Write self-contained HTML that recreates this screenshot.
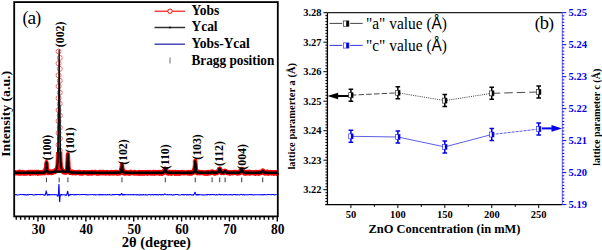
<!DOCTYPE html>
<html><head><meta charset="utf-8"><style>
html,body{margin:0;padding:0;background:#fff;}
body{width:602px;height:250px;overflow:hidden;}
svg{display:block;}
.serif{font-family:"Liberation Serif",serif;}
.sans{font-family:"Liberation Sans",sans-serif;}
</style></head><body>
<svg width="602" height="250" viewBox="0 0 602 250">
<defs>
<clipPath id="nopeak"><path d="M0,0H55.15V250H0Z M63.15,0H602V250H63.15Z M55.15,152H63.15V250H55.15Z"/></clipPath>
<clipPath id="midpk"><rect x="55.15" y="105" width="8" height="45"/></clipPath>
<clipPath id="lowonly"><path d="M0,0H55.15V250H0Z M63.15,0H602V250H63.15Z M55.15,148H63.15V250H55.15Z"/></clipPath>
</defs>
<rect width="602" height="250" fill="#fff"/>
<!-- Panel A -->
<g class="serif">
<text x="22.4" y="23.7" font-size="17.8" letter-spacing="-0.9">(<tspan font-size="19.5">a</tspan>)</text>
<text transform="translate(10.2,113.9) rotate(-90)" text-anchor="middle" font-size="13.5" font-weight="bold" textLength="85.9" lengthAdjust="spacingAndGlyphs">Intensity (a.u.)</text>
</g>
<path d="M14.50,172.53 L15.10,172.42 L15.70,173.03 L16.30,172.90 L16.90,173.01 L17.50,172.66 L18.10,172.77 L18.70,172.40 L19.30,173.01 L19.90,172.26 L20.50,172.74 L21.10,173.06 L21.70,172.97 L22.30,172.33 L22.90,172.49 L23.50,173.15 L24.10,172.93 L24.70,173.19 L25.30,173.18 L25.90,172.72 L26.50,173.21 L27.10,173.03 L27.70,172.59 L28.30,172.62 L28.90,172.30 L29.50,172.65 L30.10,173.26 L30.70,172.33 L31.30,172.84 L31.90,172.33 L32.50,172.29 L33.10,172.92 L33.70,172.47 L34.30,172.25 L34.90,172.36 L35.50,172.90 L36.10,172.83 L36.70,172.20 L37.30,172.43 L37.90,173.24 L38.50,172.41 L39.10,172.78 L39.70,172.62 L40.30,173.01 L40.90,172.80 L41.50,172.99 L42.10,172.69 L42.70,172.29 L43.30,172.24 L43.90,172.07 L44.50,172.79 L44.80,171.90 L45.10,171.54 L45.40,171.83 L45.70,169.47 L46.00,170.23 L46.30,169.34 L46.60,169.76 L46.90,169.50 L47.20,170.16 L47.50,171.21 L47.80,172.08 L48.10,172.50 L48.40,172.72 L48.70,172.19 L49.30,172.52 L49.90,172.34 L50.50,171.95 L51.10,172.71 L51.70,172.39 L52.30,172.55 L52.90,171.78 L53.50,172.00 L54.10,171.72 L54.70,171.72 L55.30,170.58 L55.90,170.21 L56.50,169.78 L57.10,169.33 L57.70,169.86 L58.00,170.06 L58.30,169.72 L58.60,169.96 L58.90,169.92 L59.20,169.49 L59.50,169.64 L59.80,170.35 L60.10,169.62 L60.40,169.72 L60.70,169.34 L61.00,169.49 L61.30,169.43 L61.90,170.27 L62.50,170.71 L63.10,171.48 L63.70,171.98 L64.30,171.80 L64.90,172.29 L65.50,171.89 L66.10,171.64 L66.40,171.98 L66.70,171.17 L67.00,170.29 L67.30,169.78 L67.60,170.10 L67.90,169.70 L68.20,170.35 L68.50,170.26 L68.80,169.57 L69.10,171.28 L69.40,171.35 L69.70,171.58 L70.00,172.43 L70.60,172.13 L71.20,172.47 L71.80,172.67 L72.40,172.05 L73.00,172.86 L73.60,172.37 L74.20,172.56 L74.80,172.48 L75.40,172.93 L76.00,172.95 L76.60,172.45 L77.20,172.26 L77.80,172.48 L78.40,172.61 L79.00,172.25 L79.60,172.34 L80.20,173.02 L80.80,172.95 L81.40,173.26 L82.00,173.27 L82.60,173.16 L83.20,172.60 L83.80,172.38 L84.40,172.54 L85.00,172.71 L85.60,172.78 L86.20,172.80 L86.80,172.60 L87.40,173.15 L88.00,172.53 L88.60,172.72 L89.20,173.19 L89.80,173.10 L90.40,172.54 L91.00,172.49 L91.60,173.11 L92.20,172.23 L92.80,172.37 L93.40,172.81 L94.00,172.81 L94.60,172.41 L95.20,172.28 L95.80,172.45 L96.40,173.07 L97.00,172.74 L97.60,173.30 L98.20,173.09 L98.80,173.31 L99.40,172.27 L100.00,172.43 L100.60,172.24 L101.20,172.71 L101.80,172.60 L102.40,172.29 L103.00,172.83 L103.60,172.33 L104.20,172.57 L104.80,172.50 L105.40,173.11 L106.00,172.69 L106.60,172.52 L107.20,172.28 L107.80,172.70 L108.40,172.92 L109.00,172.97 L109.60,173.24 L110.20,173.12 L110.80,172.50 L111.40,172.38 L112.00,173.06 L112.60,173.10 L113.20,172.79 L113.80,173.14 L114.40,172.83 L115.00,172.53 L115.60,172.40 L116.20,172.23 L116.80,172.91 L117.40,173.18 L118.00,173.18 L118.60,172.68 L119.20,172.86 L119.80,173.08 L120.40,172.75 L120.70,172.13 L121.00,170.92 L121.30,169.82 L121.60,169.44 L121.90,169.45 L122.20,170.00 L122.50,170.34 L122.80,170.55 L123.10,171.70 L123.40,172.16 L123.70,172.46 L124.00,172.92 L124.60,172.62 L125.20,173.21 L125.80,172.35 L126.40,172.54 L127.00,172.78 L127.60,172.67 L128.20,173.16 L128.80,173.13 L129.40,173.25 L130.00,172.90 L130.60,172.26 L131.20,172.86 L131.80,172.84 L132.40,172.77 L133.00,172.54 L133.60,173.02 L134.20,173.24 L134.80,172.35 L135.40,172.97 L136.00,172.65 L136.60,172.81 L137.20,173.22 L137.80,173.30 L138.40,172.95 L139.00,172.45 L139.60,173.25 L140.20,172.44 L140.80,172.66 L141.40,173.15 L142.00,172.59 L142.60,172.54 L143.20,173.29 L143.80,173.28 L144.40,172.59 L145.00,172.67 L145.60,172.55 L146.20,172.39 L146.80,172.52 L147.40,173.32 L148.00,172.33 L148.60,172.49 L149.20,172.46 L149.80,172.33 L150.40,172.82 L151.00,173.06 L151.60,173.16 L152.20,172.93 L152.80,173.14 L153.40,172.24 L154.00,172.55 L154.60,173.29 L155.20,172.31 L155.80,172.53 L156.40,172.77 L157.00,172.53 L157.60,172.83 L158.20,172.28 L158.80,172.48 L159.40,173.27 L160.00,172.37 L160.60,173.20 L161.20,172.39 L161.80,173.27 L162.40,172.89 L163.00,172.80 L163.60,172.01 L164.20,171.04 L164.80,170.09 L165.40,169.44 L166.00,170.00 L166.60,172.26 L167.20,172.93 L167.80,172.17 L168.40,173.22 L169.00,172.77 L169.60,172.62 L170.20,172.33 L170.80,172.65 L171.40,173.31 L172.00,172.53 L172.60,172.37 L173.20,172.39 L173.80,172.37 L174.40,172.62 L175.00,173.24 L175.60,172.32 L176.20,172.45 L176.80,173.27 L177.40,173.33 L178.00,173.31 L178.60,172.51 L179.20,172.63 L179.80,173.28 L180.40,172.77 L181.00,173.01 L181.60,172.58 L182.20,172.26 L182.80,172.61 L183.40,173.06 L184.00,173.09 L184.60,172.86 L185.20,172.74 L185.80,172.82 L186.40,172.71 L187.00,172.81 L187.60,173.14 L188.20,172.44 L188.80,172.87 L189.40,173.23 L190.00,173.13 L190.60,172.38 L191.20,173.23 L191.80,173.06 L192.40,172.28 L193.00,172.30 L193.60,172.02 L193.90,171.50 L194.20,171.54 L194.50,169.70 L194.80,170.21 L195.10,169.38 L195.40,169.27 L195.70,170.21 L196.00,170.12 L196.30,171.36 L196.60,172.12 L196.90,172.35 L197.20,172.76 L197.50,172.10 L198.10,172.68 L198.70,172.62 L199.30,172.33 L199.90,172.84 L200.50,172.55 L201.10,172.76 L201.70,172.62 L202.30,172.56 L202.90,172.61 L203.50,172.88 L204.10,173.30 L204.70,173.25 L205.30,173.17 L205.90,173.14 L206.50,172.54 L207.10,173.30 L207.70,172.52 L208.30,172.35 L208.90,172.76 L209.50,173.01 L210.10,172.56 L210.70,172.82 L211.30,172.11 L211.90,172.35 L212.50,171.91 L213.10,172.44 L213.70,172.71 L214.30,173.13 L214.90,173.25 L215.50,172.74 L216.10,172.62 L216.70,172.78 L217.30,172.07 L217.90,172.09 L218.50,171.48 L219.10,170.11 L219.70,169.32 L220.30,170.19 L220.90,171.08 L221.50,172.73 L222.10,172.38 L222.70,172.28 L223.30,172.60 L223.90,172.65 L224.50,171.34 L225.10,171.16 L225.70,171.56 L226.30,172.04 L226.90,172.37 L227.50,172.70 L228.10,172.62 L228.70,172.60 L229.30,172.92 L229.90,173.17 L230.50,172.86 L231.10,172.38 L231.70,172.46 L232.30,172.63 L232.90,172.89 L233.50,172.37 L234.10,172.31 L234.70,172.57 L235.30,172.52 L235.90,172.24 L236.50,172.79 L237.10,173.20 L237.70,172.76 L238.30,172.96 L238.90,173.02 L239.50,172.90 L240.10,172.52 L240.70,170.82 L241.30,170.00 L241.90,169.38 L242.50,170.80 L243.10,171.65 L243.70,172.41 L244.30,173.06 L244.90,172.46 L245.50,172.38 L246.10,173.10 L246.70,172.86 L247.30,172.30 L247.90,172.25 L248.50,172.61 L249.10,172.23 L249.70,173.14 L250.30,172.43 L250.90,172.53 L251.50,172.66 L252.10,172.80 L252.70,172.71 L253.30,172.92 L253.90,172.96 L254.50,172.71 L255.10,172.34 L255.70,173.31 L256.30,172.99 L256.90,172.32 L257.50,172.71 L258.10,173.05 L258.70,173.31 L259.30,172.28 L259.90,172.20 L260.50,172.65 L261.10,172.39 L261.70,172.38 L262.30,171.58 L262.90,170.87 L263.50,171.61 L264.10,172.43 L264.70,173.06 L265.30,172.40 L265.90,172.63 L266.50,172.31 L267.10,172.93 L267.70,172.26 L268.30,173.26 L268.90,172.81 L269.50,172.87 L270.10,172.33 L270.70,172.49 L271.30,172.76 L271.90,173.18 L272.50,172.84 L273.10,172.56 L273.70,173.32 L274.30,172.97 L274.90,172.83 L275.50,172.47 L276.10,172.57 L276.70,173.23 L277.30,172.39" fill="none" stroke="#ff0000" stroke-width="5.0" stroke-linejoin="round" stroke-linecap="butt"/>
<path d="M14.50,172.52 L15.10,172.83 L15.70,172.65 L16.30,172.89 L16.90,172.91 L17.50,172.35 L18.10,172.30 L18.70,173.12 L19.30,172.54 L19.90,172.51 L20.50,173.28 L21.10,172.75 L21.70,173.11 L22.30,172.75 L22.90,172.92 L23.50,172.43 L24.10,172.91 L24.70,173.14 L25.30,172.80 L25.90,173.01 L26.50,172.94 L27.10,172.33 L27.70,173.03 L28.30,172.86 L28.90,172.57 L29.50,172.30 L30.10,173.13 L30.70,172.73 L31.30,172.98 L31.90,173.14 L32.50,172.97 L33.10,173.17 L33.70,172.65 L34.30,173.05 L34.90,172.69 L35.50,173.18 L36.10,173.12 L36.70,172.33 L37.30,172.37 L37.90,172.44 L38.50,173.19 L39.10,172.65 L39.70,172.83 L40.30,172.50 L40.90,172.69 L41.50,172.56 L42.10,172.51 L42.70,172.71 L43.30,172.68 L43.90,172.94 L44.00,172.71 L44.10,172.94 L44.20,172.85 L44.30,172.97 L44.40,172.63 L44.50,172.09 L44.60,172.76 L44.70,172.83 L44.80,172.73 L44.90,172.33 L45.00,172.39 L45.10,171.77 L45.20,172.23 L45.30,171.73 L45.40,171.11 L45.50,170.42 L45.60,170.61 L45.70,169.97 L45.80,168.13 L45.90,167.76 L46.00,166.19 L46.10,164.72 L46.20,163.73 L46.30,163.29 L46.40,162.83 L46.50,161.90 L46.60,162.84 L46.70,163.05 L46.80,164.77 L46.90,165.57 L47.00,167.32 L47.10,168.55 L47.20,169.07 L47.30,170.40 L47.40,170.38 L47.50,170.66 L47.60,171.57 L47.70,171.27 L47.80,171.63 L47.90,171.97 L48.00,172.26 L48.10,171.87 L48.20,171.80 L48.30,172.66 L48.40,172.13 L48.50,172.79 L48.60,172.75 L48.70,172.24 L48.80,172.33 L48.90,172.40 L49.00,172.53 L49.10,172.49 L49.20,172.46 L49.30,172.52 L49.40,172.84 L49.50,172.41 L50.10,172.33 L50.70,172.59 L51.30,172.06 L51.90,172.06 L52.50,172.65 L53.10,172.08 L53.70,171.95 L54.30,171.19 L54.90,171.27 L55.50,170.94 L56.10,169.59 L56.70,168.78 L56.80,168.47 L56.90,167.52 L57.00,167.65 L57.10,167.00 L57.20,166.64 L57.30,165.63 L57.40,165.16 L57.50,164.17 L57.60,162.17 L57.70,160.55 L57.80,159.01 L57.90,156.48 L58.00,152.09 L58.10,147.56 L58.20,141.69 L58.30,133.96 L58.40,125.01 L58.50,114.44 L58.60,102.63 L58.70,90.07 L58.80,76.79 L58.90,64.84 L59.00,55.69 L59.10,49.50 L59.20,49.82 L59.30,55.03 L59.40,63.87 L59.50,75.66 L59.60,89.20 L59.70,101.47 L59.80,113.38 L59.90,124.27 L60.00,133.65 L60.10,140.63 L60.20,146.97 L60.30,151.82 L60.40,156.07 L60.50,158.56 L60.60,161.18 L60.70,162.18 L60.80,163.66 L60.90,165.01 L61.00,166.08 L61.10,166.34 L61.20,166.69 L61.30,167.09 L61.40,167.93 L61.50,167.97 L61.60,168.92 L61.70,169.25 L61.80,168.87 L61.90,169.20 L62.00,169.95 L62.10,169.98 L62.20,170.32 L62.80,170.65 L63.40,170.91 L64.00,171.37 L64.60,172.05 L65.20,171.62 L65.30,171.70 L65.40,171.77 L65.50,171.77 L65.60,171.75 L65.70,172.26 L65.80,171.48 L65.90,171.31 L66.00,172.22 L66.10,172.11 L66.20,172.17 L66.30,171.54 L66.40,171.94 L66.50,171.75 L66.60,170.80 L66.70,170.97 L66.80,170.55 L66.90,169.66 L67.00,168.54 L67.10,167.06 L67.20,165.56 L67.30,163.60 L67.40,161.38 L67.50,159.72 L67.60,157.31 L67.70,156.00 L67.80,153.94 L67.90,154.27 L68.00,154.39 L68.10,155.76 L68.20,157.47 L68.30,159.55 L68.40,161.42 L68.50,162.98 L68.60,165.63 L68.70,166.71 L68.80,168.18 L68.90,169.60 L69.00,170.25 L69.10,170.72 L69.20,171.65 L69.30,171.61 L69.40,171.54 L69.50,171.59 L69.60,172.31 L69.70,172.00 L69.80,172.37 L69.90,171.99 L70.00,171.88 L70.10,172.25 L70.20,172.57 L70.30,171.95 L70.40,172.60 L70.50,172.75 L70.60,172.66 L70.70,172.70 L70.80,171.90 L70.90,172.54 L71.00,172.79 L71.60,172.05 L72.20,172.32 L72.80,172.35 L73.40,172.64 L74.00,172.55 L74.60,172.62 L75.20,172.94 L75.80,172.18 L76.40,172.24 L77.00,172.32 L77.60,172.33 L78.20,172.28 L78.80,173.19 L79.40,173.07 L80.00,172.31 L80.60,172.73 L81.20,172.55 L81.80,172.55 L82.40,172.59 L83.00,172.89 L83.60,172.83 L84.20,172.61 L84.80,172.44 L85.40,172.58 L86.00,172.38 L86.60,172.81 L87.20,172.98 L87.80,172.64 L88.40,172.34 L89.00,172.44 L89.60,172.64 L90.20,172.87 L90.80,173.05 L91.40,172.65 L92.00,173.07 L92.60,172.89 L93.20,172.70 L93.80,172.65 L94.40,172.77 L95.00,172.98 L95.60,172.70 L96.20,172.97 L96.80,172.74 L97.40,172.52 L98.00,172.81 L98.60,172.97 L99.20,172.35 L99.80,172.70 L100.40,172.71 L101.00,173.16 L101.60,173.22 L102.20,172.66 L102.80,173.18 L103.40,173.07 L104.00,172.54 L104.60,172.75 L105.20,172.41 L105.80,173.10 L106.40,172.94 L107.00,173.17 L107.60,173.07 L108.20,172.95 L108.80,173.02 L109.40,172.85 L110.00,172.38 L110.60,172.87 L111.20,172.29 L111.80,172.42 L112.40,173.05 L113.00,172.32 L113.60,172.37 L114.20,172.37 L114.80,173.15 L115.40,172.45 L116.00,172.29 L116.60,173.10 L117.20,172.37 L117.80,173.08 L118.40,172.89 L119.00,173.03 L119.10,173.14 L119.20,172.75 L119.30,172.97 L119.40,172.19 L119.50,172.91 L119.60,172.65 L119.70,172.84 L119.80,172.21 L119.90,172.84 L120.00,173.00 L120.10,172.10 L120.20,172.33 L120.30,172.53 L120.40,172.73 L120.50,172.06 L120.60,171.87 L120.70,171.77 L120.80,171.89 L120.90,171.70 L121.00,170.91 L121.10,170.32 L121.20,169.67 L121.30,168.82 L121.40,167.98 L121.50,166.69 L121.60,166.17 L121.70,165.79 L121.80,164.59 L121.90,164.58 L122.00,164.01 L122.10,164.91 L122.20,165.63 L122.30,166.40 L122.40,167.19 L122.50,168.11 L122.60,169.17 L122.70,170.22 L122.80,170.15 L122.90,170.64 L123.00,171.72 L123.10,172.22 L123.20,172.05 L123.30,172.15 L123.40,172.54 L123.50,172.09 L123.60,172.23 L123.70,172.21 L123.80,172.63 L123.90,172.38 L124.00,172.32 L124.10,172.80 L124.20,173.08 L124.30,172.43 L124.40,172.85 L124.50,172.57 L124.60,173.02 L124.70,172.76 L124.80,172.45 L124.90,172.41 L125.00,172.22 L125.60,172.71 L126.20,172.63 L126.80,172.43 L127.40,172.62 L128.00,172.59 L128.60,173.05 L129.20,172.42 L129.80,173.27 L130.40,172.76 L131.00,172.88 L131.60,172.75 L132.20,173.12 L132.80,173.11 L133.40,172.84 L134.00,172.77 L134.60,173.01 L135.20,173.14 L135.80,172.69 L136.40,173.02 L137.00,173.25 L137.60,172.76 L138.20,172.52 L138.80,172.52 L139.40,173.01 L140.00,172.97 L140.60,173.25 L141.20,173.14 L141.80,172.53 L142.40,172.48 L143.00,172.55 L143.60,172.48 L144.20,173.00 L144.80,173.15 L145.40,173.19 L146.00,172.55 L146.60,173.16 L147.20,172.60 L147.80,172.71 L148.40,173.02 L149.00,172.38 L149.60,172.38 L150.20,173.12 L150.80,172.58 L151.40,172.65 L152.00,172.87 L152.60,172.96 L153.20,172.30 L153.80,172.62 L154.40,172.72 L155.00,172.77 L155.60,172.50 L156.20,172.87 L156.80,173.24 L157.40,172.67 L158.00,172.82 L158.60,172.40 L159.20,172.55 L159.80,172.93 L160.40,172.37 L161.00,173.14 L161.60,173.15 L162.20,172.31 L162.80,173.11 L163.40,172.40 L164.00,172.20 L164.60,170.64 L165.20,168.64 L165.80,169.88 L166.40,171.64 L167.00,172.70 L167.60,172.40 L168.20,172.96 L168.80,173.19 L169.40,172.92 L170.00,172.79 L170.60,172.38 L171.20,172.76 L171.80,172.63 L172.40,173.00 L173.00,172.96 L173.60,172.85 L174.20,172.46 L174.80,172.93 L175.40,172.92 L176.00,172.46 L176.60,173.18 L177.20,172.94 L177.80,172.41 L178.40,173.22 L179.00,172.43 L179.60,172.62 L180.20,173.01 L180.80,172.88 L181.40,172.84 L182.00,172.93 L182.60,172.74 L183.20,172.60 L183.80,172.46 L184.40,172.35 L185.00,173.00 L185.60,173.03 L186.20,172.82 L186.80,173.02 L187.40,172.63 L188.00,172.54 L188.60,172.65 L189.20,173.13 L189.80,172.29 L190.40,172.75 L191.00,172.47 L191.60,172.97 L192.20,172.52 L192.80,172.43 L192.90,172.48 L193.00,172.60 L193.10,172.81 L193.20,172.37 L193.30,172.83 L193.40,172.06 L193.50,172.17 L193.60,171.94 L193.70,171.88 L193.80,172.43 L193.90,172.22 L194.00,171.45 L194.10,171.14 L194.20,170.93 L194.30,170.67 L194.40,170.00 L194.50,169.00 L194.60,167.74 L194.70,166.05 L194.80,164.96 L194.90,163.41 L195.00,162.51 L195.10,161.57 L195.20,160.62 L195.30,160.57 L195.40,161.52 L195.50,161.63 L195.60,163.56 L195.70,164.97 L195.80,166.38 L195.90,167.10 L196.00,168.43 L196.10,169.45 L196.20,170.31 L196.30,171.30 L196.40,171.49 L196.50,171.46 L196.60,172.28 L196.70,172.08 L196.80,172.33 L196.90,172.55 L197.00,171.89 L197.10,172.70 L197.20,172.63 L197.30,172.49 L197.40,172.55 L197.50,172.51 L197.60,172.26 L197.70,172.62 L197.80,172.14 L197.90,172.62 L198.00,172.77 L198.10,172.58 L198.20,172.71 L198.30,173.12 L198.90,173.09 L199.50,172.36 L200.10,173.03 L200.70,172.87 L201.30,172.31 L201.90,172.62 L202.50,172.50 L203.10,172.35 L203.70,172.81 L204.30,173.20 L204.90,172.60 L205.50,173.14 L206.10,172.97 L206.70,172.41 L207.30,173.13 L207.90,172.87 L208.50,173.19 L209.10,172.98 L209.70,172.99 L210.30,172.57 L210.90,172.91 L211.50,172.61 L212.10,172.13 L212.70,172.08 L213.30,172.83 L213.90,172.69 L214.50,172.33 L215.10,172.26 L215.70,172.28 L216.30,172.38 L216.90,172.29 L217.50,172.47 L218.10,172.12 L218.70,170.58 L219.30,168.61 L219.90,168.52 L220.50,169.86 L221.10,171.61 L221.70,172.62 L222.30,172.47 L222.90,172.28 L223.50,172.88 L224.10,172.22 L224.70,170.97 L225.30,170.69 L225.90,171.68 L226.50,172.48 L227.10,172.37 L227.70,172.21 L228.30,172.44 L228.90,173.03 L229.50,172.40 L230.10,172.72 L230.70,172.46 L231.30,172.48 L231.90,172.44 L232.50,172.67 L233.10,172.44 L233.70,172.30 L234.30,172.38 L234.90,172.43 L235.50,172.75 L236.10,172.31 L236.70,172.27 L237.30,172.68 L237.90,172.63 L238.50,172.89 L239.10,172.18 L239.70,172.33 L240.30,171.66 L240.90,169.87 L241.50,169.38 L242.10,169.03 L242.70,170.52 L243.30,172.06 L243.90,172.20 L244.50,172.78 L245.10,172.55 L245.70,172.35 L246.30,172.30 L246.90,172.98 L247.50,172.54 L248.10,173.06 L248.70,172.74 L249.30,173.21 L249.90,172.58 L250.50,172.53 L251.10,172.55 L251.70,173.10 L252.30,172.91 L252.90,172.63 L253.50,172.38 L254.10,172.97 L254.70,173.25 L255.30,172.87 L255.90,172.29 L256.50,172.31 L257.10,172.37 L257.70,172.44 L258.30,172.31 L258.90,172.32 L259.50,172.90 L260.10,173.12 L260.70,172.33 L261.30,172.81 L261.90,171.68 L262.50,171.36 L263.10,171.63 L263.70,172.38 L264.30,172.00 L264.90,172.48 L265.50,172.84 L266.10,173.20 L266.70,172.35 L267.30,172.57 L267.90,173.13 L268.50,172.40 L269.10,172.67 L269.70,172.62 L270.30,172.97 L270.90,173.22 L271.50,172.47 L272.10,173.03 L272.70,173.03 L273.30,173.13 L273.90,172.85 L274.50,173.22 L275.10,172.66 L275.70,172.71 L276.30,172.52 L276.90,173.07 L277.50,172.78" fill="none" stroke="#ff0000" stroke-width="4.0" stroke-linejoin="round" stroke-linecap="butt" clip-path="url(#nopeak)"/>
<g fill="none" stroke="#f03c3c" stroke-width="1" opacity="0.75"><circle cx="58.55" cy="51.50" r="2.5"/><circle cx="59.75" cy="57.90" r="2.5"/><circle cx="58.55" cy="63.40" r="2.5"/><circle cx="59.75" cy="68.90" r="2.5"/><circle cx="58.55" cy="75.30" r="2.5"/><circle cx="59.75" cy="80.80" r="2.5"/><circle cx="58.55" cy="86.30" r="2.5"/><circle cx="59.75" cy="92.70" r="2.5"/><circle cx="58.55" cy="98.20" r="2.5"/><circle cx="59.75" cy="103.70" r="2.5"/><circle cx="58.55" cy="110.10" r="2.5"/><circle cx="59.75" cy="115.60" r="2.5"/><circle cx="58.55" cy="121.10" r="2.5"/><circle cx="59.75" cy="127.50" r="2.5"/><circle cx="58.55" cy="133.00" r="2.5"/><circle cx="59.75" cy="138.50" r="2.5"/><circle cx="58.55" cy="144.90" r="2.5"/><circle cx="59.75" cy="150.40" r="2.5"/><circle cx="58.55" cy="155.90" r="2.5"/><circle cx="59.75" cy="162.30" r="2.5"/></g>
<g fill="none" stroke="#f03c3c" stroke-width="0.9" opacity="0.8"><circle cx="194.87" cy="161.6" r="1.9"/><circle cx="195.67" cy="164.6" r="1.9"/></g>
<path d="M14.50,172.78 L15.00,172.78 L15.50,172.78 L16.00,172.78 L16.50,172.78 L17.00,172.78 L17.50,172.78 L18.00,172.78 L18.50,172.78 L19.00,172.78 L19.50,172.78 L20.00,172.78 L20.50,172.78 L21.00,172.78 L21.50,172.78 L22.00,172.78 L22.50,172.78 L23.00,172.78 L23.50,172.78 L24.00,172.78 L24.50,172.77 L25.00,172.77 L25.50,172.77 L26.00,172.77 L26.50,172.77 L27.00,172.77 L27.50,172.77 L28.00,172.77 L28.50,172.77 L29.00,172.77 L29.50,172.77 L30.00,172.76 L30.50,172.76 L31.00,172.76 L31.50,172.76 L32.00,172.76 L32.50,172.76 L33.00,172.75 L33.50,172.75 L34.00,172.75 L34.50,172.75 L35.00,172.75 L35.50,172.74 L36.00,172.74 L36.50,172.74 L37.00,172.73 L37.50,172.73 L38.00,172.72 L38.50,172.72 L39.00,172.71 L39.50,172.71 L40.00,172.70 L40.50,172.69 L41.00,172.68 L41.50,172.67 L42.00,172.66 L42.50,172.64 L43.00,172.61 L43.50,172.58 L43.60,172.57 L43.70,172.56 L43.80,172.55 L43.90,172.54 L44.00,172.52 L44.10,172.51 L44.20,172.49 L44.30,172.47 L44.40,172.45 L44.50,172.43 L44.60,172.40 L44.70,172.37 L44.80,172.32 L44.90,172.26 L45.00,172.18 L45.10,172.06 L45.20,171.90 L45.30,171.66 L45.40,171.32 L45.50,170.86 L45.60,170.25 L45.70,169.48 L45.80,168.55 L45.90,167.46 L46.00,166.28 L46.10,165.07 L46.20,163.94 L46.30,163.02 L46.40,162.46 L46.50,162.35 L46.60,162.72 L46.70,163.50 L46.80,164.55 L46.90,165.74 L47.00,166.94 L47.10,168.07 L47.20,169.07 L47.30,169.90 L47.40,170.57 L47.50,171.09 L47.60,171.47 L47.70,171.74 L47.80,171.93 L47.90,172.06 L48.00,172.15 L48.10,172.21 L48.20,172.26 L48.30,172.29 L48.40,172.31 L48.50,172.33 L48.60,172.35 L48.70,172.36 L48.80,172.37 L48.90,172.38 L49.00,172.39 L49.10,172.39 L49.20,172.40 L49.30,172.40 L49.40,172.40 L49.50,172.41 L50.00,172.40 L50.50,172.38 L51.00,172.35 L51.50,172.31 L52.00,172.25 L52.50,172.17 L53.00,172.08 L53.50,171.96 L54.00,171.80 L54.50,171.58 L55.00,171.28 L55.50,170.86 L56.00,170.23 L56.50,169.23 L56.60,168.97 L56.70,168.67 L56.80,168.33 L56.90,167.96 L57.00,167.53 L57.10,167.03 L57.20,166.46 L57.30,165.78 L57.40,164.95 L57.50,163.93 L57.60,162.65 L57.70,160.99 L57.80,158.84 L57.90,156.02 L58.00,152.34 L58.10,147.60 L58.20,141.59 L58.30,134.14 L58.40,125.15 L58.50,114.63 L58.60,102.76 L58.70,89.97 L58.80,76.99 L58.90,64.96 L59.00,55.42 L59.10,49.97 L59.20,49.75 L59.30,54.79 L59.40,64.06 L59.50,75.94 L59.60,88.89 L59.70,101.73 L59.80,113.69 L59.90,124.33 L60.00,133.45 L60.10,141.03 L60.20,147.15 L60.30,151.99 L60.40,155.74 L60.50,158.62 L60.60,160.82 L60.70,162.51 L60.80,163.82 L60.90,164.86 L61.00,165.70 L61.10,166.39 L61.20,166.97 L61.30,167.47 L61.40,167.90 L61.50,168.28 L61.60,168.62 L61.70,168.92 L61.80,169.18 L61.90,169.42 L62.00,169.64 L62.10,169.84 L62.20,170.02 L62.70,170.70 L63.20,171.14 L63.70,171.44 L64.20,171.65 L64.70,171.78 L65.20,171.84 L65.30,171.85 L65.40,171.85 L65.50,171.85 L65.60,171.84 L65.70,171.84 L65.80,171.82 L65.90,171.80 L66.00,171.77 L66.10,171.73 L66.20,171.68 L66.30,171.60 L66.40,171.49 L66.50,171.32 L66.60,171.08 L66.70,170.72 L66.80,170.21 L66.90,169.49 L67.00,168.53 L67.10,167.27 L67.20,165.72 L67.30,163.87 L67.40,161.81 L67.50,159.63 L67.60,157.52 L67.70,155.69 L67.80,154.39 L67.90,153.86 L68.00,154.20 L68.10,155.33 L68.20,157.07 L68.30,159.15 L68.40,161.35 L68.50,163.47 L68.60,165.39 L68.70,167.04 L68.80,168.38 L68.90,169.43 L69.00,170.23 L69.10,170.80 L69.20,171.21 L69.30,171.50 L69.40,171.70 L69.50,171.84 L69.60,171.95 L69.70,172.02 L69.80,172.09 L69.90,172.14 L70.00,172.18 L70.10,172.22 L70.20,172.25 L70.30,172.28 L70.40,172.31 L70.50,172.33 L70.60,172.35 L70.70,172.37 L70.80,172.39 L70.90,172.41 L71.00,172.42 L71.50,172.49 L72.00,172.53 L72.50,172.56 L73.00,172.59 L73.50,172.61 L74.00,172.63 L74.50,172.64 L75.00,172.66 L75.50,172.67 L76.00,172.68 L76.50,172.69 L77.00,172.69 L77.50,172.70 L78.00,172.71 L78.50,172.71 L79.00,172.72 L79.50,172.72 L80.00,172.73 L80.50,172.73 L81.00,172.73 L81.50,172.74 L82.00,172.74 L82.50,172.74 L83.00,172.74 L83.50,172.75 L84.00,172.75 L84.50,172.75 L85.00,172.75 L85.50,172.75 L86.00,172.76 L86.50,172.76 L87.00,172.76 L87.50,172.76 L88.00,172.76 L88.50,172.76 L89.00,172.76 L89.50,172.77 L90.00,172.77 L90.50,172.77 L91.00,172.77 L91.50,172.77 L92.00,172.77 L92.50,172.77 L93.00,172.77 L93.50,172.77 L94.00,172.77 L94.50,172.77 L95.00,172.77 L95.50,172.78 L96.00,172.78 L96.50,172.78 L97.00,172.78 L97.50,172.78 L98.00,172.78 L98.50,172.78 L99.00,172.78 L99.50,172.78 L100.00,172.78 L100.50,172.78 L101.00,172.78 L101.50,172.78 L102.00,172.78 L102.50,172.78 L103.00,172.78 L103.50,172.78 L104.00,172.78 L104.50,172.78 L105.00,172.78 L105.50,172.78 L106.00,172.78 L106.50,172.78 L107.00,172.78 L107.50,172.78 L108.00,172.78 L108.50,172.78 L109.00,172.78 L109.50,172.78 L110.00,172.78 L110.50,172.78 L111.00,172.78 L111.50,172.78 L112.00,172.78 L112.50,172.78 L113.00,172.78 L113.50,172.78 L114.00,172.78 L114.50,172.77 L115.00,172.77 L115.50,172.77 L116.00,172.76 L116.50,172.76 L117.00,172.75 L117.50,172.75 L118.00,172.73 L118.50,172.72 L119.00,172.69 L119.10,172.68 L119.20,172.68 L119.30,172.67 L119.40,172.66 L119.50,172.65 L119.60,172.64 L119.70,172.62 L119.80,172.61 L119.90,172.59 L120.00,172.57 L120.10,172.54 L120.20,172.51 L120.30,172.46 L120.40,172.40 L120.50,172.32 L120.60,172.19 L120.70,172.02 L120.80,171.78 L120.90,171.45 L121.00,171.01 L121.10,170.46 L121.20,169.77 L121.30,168.97 L121.40,168.06 L121.50,167.11 L121.60,166.17 L121.70,165.32 L121.80,164.68 L121.90,164.33 L122.00,164.34 L122.10,164.71 L122.20,165.38 L122.30,166.23 L122.40,167.18 L122.50,168.13 L122.60,169.03 L122.70,169.82 L122.80,170.50 L122.90,171.05 L123.00,171.48 L123.10,171.80 L123.20,172.04 L123.30,172.20 L123.40,172.32 L123.50,172.41 L123.60,172.47 L123.70,172.51 L123.80,172.54 L123.90,172.57 L124.00,172.59 L124.10,172.61 L124.20,172.62 L124.30,172.64 L124.40,172.65 L124.50,172.66 L124.60,172.67 L124.70,172.68 L124.80,172.68 L124.90,172.69 L125.00,172.70 L125.50,172.72 L126.00,172.74 L126.50,172.75 L127.00,172.76 L127.50,172.76 L128.00,172.77 L128.50,172.77 L129.00,172.77 L129.50,172.78 L130.00,172.78 L130.50,172.78 L131.00,172.78 L131.50,172.78 L132.00,172.78 L132.50,172.78 L133.00,172.79 L133.50,172.79 L134.00,172.79 L134.50,172.79 L135.00,172.79 L135.50,172.79 L136.00,172.79 L136.50,172.79 L137.00,172.79 L137.50,172.79 L138.00,172.79 L138.50,172.79 L139.00,172.79 L139.50,172.79 L140.00,172.79 L140.50,172.79 L141.00,172.79 L141.50,172.79 L142.00,172.79 L142.50,172.79 L143.00,172.79 L143.50,172.79 L144.00,172.79 L144.50,172.79 L145.00,172.79 L145.50,172.79 L146.00,172.79 L146.50,172.79 L147.00,172.79 L147.50,172.79 L148.00,172.79 L148.50,172.79 L149.00,172.79 L149.50,172.79 L150.00,172.79 L150.50,172.79 L151.00,172.79 L151.50,172.79 L152.00,172.79 L152.50,172.79 L153.00,172.79 L153.50,172.79 L154.00,172.79 L154.50,172.79 L155.00,172.79 L155.50,172.79 L156.00,172.78 L156.50,172.78 L157.00,172.78 L157.50,172.78 L158.00,172.78 L158.50,172.78 L159.00,172.77 L159.50,172.77 L160.00,172.77 L160.50,172.76 L161.00,172.75 L161.50,172.74 L162.00,172.72 L162.50,172.70 L163.00,172.64 L163.50,172.47 L164.00,171.93 L164.50,170.70 L165.00,169.19 L165.50,168.96 L166.00,170.34 L166.50,171.71 L167.00,172.39 L167.50,172.62 L168.00,172.69 L168.50,172.72 L169.00,172.74 L169.50,172.75 L170.00,172.76 L170.50,172.76 L171.00,172.77 L171.50,172.77 L172.00,172.78 L172.50,172.78 L173.00,172.78 L173.50,172.78 L174.00,172.78 L174.50,172.78 L175.00,172.78 L175.50,172.78 L176.00,172.79 L176.50,172.79 L177.00,172.79 L177.50,172.79 L178.00,172.79 L178.50,172.79 L179.00,172.79 L179.50,172.79 L180.00,172.79 L180.50,172.79 L181.00,172.79 L181.50,172.79 L182.00,172.79 L182.50,172.79 L183.00,172.78 L183.50,172.78 L184.00,172.78 L184.50,172.78 L185.00,172.78 L185.50,172.78 L186.00,172.78 L186.50,172.78 L187.00,172.78 L187.50,172.77 L188.00,172.77 L188.50,172.77 L189.00,172.76 L189.50,172.76 L190.00,172.75 L190.50,172.74 L191.00,172.72 L191.50,172.71 L192.00,172.68 L192.50,172.63 L192.60,172.62 L192.70,172.61 L192.80,172.59 L192.90,172.58 L193.00,172.56 L193.10,172.54 L193.20,172.51 L193.30,172.48 L193.40,172.45 L193.50,172.40 L193.60,172.35 L193.70,172.26 L193.80,172.15 L193.90,171.99 L194.00,171.77 L194.10,171.45 L194.20,171.01 L194.30,170.43 L194.40,169.68 L194.50,168.75 L194.60,167.65 L194.70,166.40 L194.80,165.06 L194.90,163.72 L195.00,162.49 L195.10,161.50 L195.20,160.91 L195.30,160.82 L195.40,161.24 L195.50,162.10 L195.60,163.26 L195.70,164.58 L195.80,165.93 L195.90,167.22 L196.00,168.38 L196.10,169.37 L196.20,170.18 L196.30,170.82 L196.40,171.31 L196.50,171.66 L196.60,171.92 L196.70,172.10 L196.80,172.23 L196.90,172.32 L197.00,172.38 L197.10,172.43 L197.20,172.47 L197.30,172.50 L197.40,172.53 L197.50,172.55 L197.60,172.57 L197.70,172.59 L197.80,172.60 L197.90,172.62 L198.00,172.63 L198.10,172.64 L198.20,172.65 L198.30,172.66 L198.80,172.69 L199.30,172.71 L199.80,172.73 L200.30,172.74 L200.80,172.75 L201.30,172.76 L201.80,172.76 L202.30,172.76 L202.80,172.77 L203.30,172.77 L203.80,172.77 L204.30,172.77 L204.80,172.77 L205.30,172.77 L205.80,172.77 L206.30,172.77 L206.80,172.77 L207.30,172.77 L207.80,172.77 L208.30,172.77 L208.80,172.76 L209.30,172.76 L209.80,172.75 L210.30,172.73 L210.80,172.64 L211.30,172.35 L211.80,171.91 L212.30,171.82 L212.80,172.23 L213.30,172.57 L213.80,172.69 L214.30,172.72 L214.80,172.72 L215.30,172.71 L215.80,172.70 L216.30,172.68 L216.80,172.64 L217.30,172.54 L217.80,172.27 L218.30,171.56 L218.80,170.23 L219.30,168.69 L219.80,168.24 L220.30,169.41 L220.80,170.95 L221.30,171.97 L221.80,172.42 L222.30,172.56 L222.80,172.60 L223.30,172.55 L223.80,172.31 L224.30,171.73 L224.80,170.97 L225.30,170.81 L225.80,171.49 L226.30,172.20 L226.80,172.56 L227.30,172.68 L227.80,172.72 L228.30,172.73 L228.80,172.75 L229.30,172.75 L229.80,172.76 L230.30,172.76 L230.80,172.76 L231.30,172.77 L231.80,172.77 L232.30,172.77 L232.80,172.77 L233.30,172.77 L233.80,172.77 L234.30,172.77 L234.80,172.76 L235.30,172.76 L235.80,172.76 L236.30,172.75 L236.80,172.75 L237.30,172.74 L237.80,172.72 L238.30,172.70 L238.80,172.67 L239.30,172.59 L239.80,172.36 L240.30,171.76 L240.80,170.62 L241.30,169.27 L241.80,168.83 L242.30,169.82 L242.80,171.17 L243.30,172.08 L243.80,172.49 L244.30,172.63 L244.80,172.69 L245.30,172.71 L245.80,172.73 L246.30,172.74 L246.80,172.75 L247.30,172.76 L247.80,172.77 L248.30,172.77 L248.80,172.77 L249.30,172.77 L249.80,172.78 L250.30,172.78 L250.80,172.78 L251.30,172.78 L251.80,172.78 L252.30,172.78 L252.80,172.78 L253.30,172.78 L253.80,172.78 L254.30,172.78 L254.80,172.78 L255.30,172.78 L255.80,172.78 L256.30,172.78 L256.80,172.78 L257.30,172.78 L257.80,172.77 L258.30,172.77 L258.80,172.76 L259.30,172.75 L259.80,172.74 L260.30,172.70 L260.80,172.60 L261.30,172.34 L261.80,171.83 L262.30,171.22 L262.80,171.01 L263.30,171.44 L263.80,172.06 L264.30,172.47 L264.80,172.66 L265.30,172.72 L265.80,172.75 L266.30,172.76 L266.80,172.77 L267.30,172.77 L267.80,172.78 L268.30,172.78 L268.80,172.78 L269.30,172.79 L269.80,172.79 L270.30,172.79 L270.80,172.79 L271.30,172.79 L271.80,172.79 L272.30,172.79 L272.80,172.79 L273.30,172.79 L273.80,172.79 L274.30,172.79 L274.80,172.79 L275.30,172.79 L275.80,172.79 L276.30,172.79 L276.80,172.80 L277.30,172.80" fill="none" stroke="#111" stroke-width="1.15" stroke-linejoin="round"/>
<path d="M14.50,172.78 L15.00,172.78 L15.50,172.78 L16.00,172.78 L16.50,172.78 L17.00,172.78 L17.50,172.78 L18.00,172.78 L18.50,172.78 L19.00,172.78 L19.50,172.78 L20.00,172.78 L20.50,172.78 L21.00,172.78 L21.50,172.78 L22.00,172.78 L22.50,172.78 L23.00,172.78 L23.50,172.78 L24.00,172.78 L24.50,172.77 L25.00,172.77 L25.50,172.77 L26.00,172.77 L26.50,172.77 L27.00,172.77 L27.50,172.77 L28.00,172.77 L28.50,172.77 L29.00,172.77 L29.50,172.77 L30.00,172.76 L30.50,172.76 L31.00,172.76 L31.50,172.76 L32.00,172.76 L32.50,172.76 L33.00,172.75 L33.50,172.75 L34.00,172.75 L34.50,172.75 L35.00,172.75 L35.50,172.74 L36.00,172.74 L36.50,172.74 L37.00,172.73 L37.50,172.73 L38.00,172.72 L38.50,172.72 L39.00,172.71 L39.50,172.71 L40.00,172.70 L40.50,172.69 L41.00,172.68 L41.50,172.67 L42.00,172.66 L42.50,172.64 L43.00,172.61 L43.50,172.58 L43.60,172.57 L43.70,172.56 L43.80,172.55 L43.90,172.54 L44.00,172.52 L44.10,172.51 L44.20,172.49 L44.30,172.47 L44.40,172.45 L44.50,172.43 L44.60,172.40 L44.70,172.37 L44.80,172.32 L44.90,172.26 L45.00,172.18 L45.10,172.06 L45.20,171.90 L45.30,171.66 L45.40,171.32 L45.50,170.86 L45.60,170.25 L45.70,169.48 L45.80,168.55 L45.90,167.46 L46.00,166.28 L46.10,165.07 L46.20,163.94 L46.30,163.02 L46.40,162.46 L46.50,162.35 L46.60,162.72 L46.70,163.50 L46.80,164.55 L46.90,165.74 L47.00,166.94 L47.10,168.07 L47.20,169.07 L47.30,169.90 L47.40,170.57 L47.50,171.09 L47.60,171.47 L47.70,171.74 L47.80,171.93 L47.90,172.06 L48.00,172.15 L48.10,172.21 L48.20,172.26 L48.30,172.29 L48.40,172.31 L48.50,172.33 L48.60,172.35 L48.70,172.36 L48.80,172.37 L48.90,172.38 L49.00,172.39 L49.10,172.39 L49.20,172.40 L49.30,172.40 L49.40,172.40 L49.50,172.41 L50.00,172.40 L50.50,172.38 L51.00,172.35 L51.50,172.31 L52.00,172.25 L52.50,172.17 L53.00,172.08 L53.50,171.96 L54.00,171.80 L54.50,171.58 L55.00,171.28 L55.50,170.86 L56.00,170.23 L56.50,169.23 L56.60,168.97 L56.70,168.67 L56.80,168.33 L56.90,167.96 L57.00,167.53 L57.10,167.03 L57.20,166.46 L57.30,165.78 L57.40,164.95 L57.50,163.93 L57.60,162.65 L57.70,160.99 L57.80,158.84 L57.90,156.02 L58.00,152.34 L58.10,147.60 L58.20,141.59 L58.30,134.14 L58.40,125.15 L58.50,114.63 L58.60,102.76 L58.70,89.97 L58.80,76.99 L58.90,64.96 L59.00,55.42 L59.10,49.97 L59.20,49.75 L59.30,54.79 L59.40,64.06 L59.50,75.94 L59.60,88.89 L59.70,101.73 L59.80,113.69 L59.90,124.33 L60.00,133.45 L60.10,141.03 L60.20,147.15 L60.30,151.99 L60.40,155.74 L60.50,158.62 L60.60,160.82 L60.70,162.51 L60.80,163.82 L60.90,164.86 L61.00,165.70 L61.10,166.39 L61.20,166.97 L61.30,167.47 L61.40,167.90 L61.50,168.28 L61.60,168.62 L61.70,168.92 L61.80,169.18 L61.90,169.42 L62.00,169.64 L62.10,169.84 L62.20,170.02 L62.70,170.70 L63.20,171.14 L63.70,171.44 L64.20,171.65 L64.70,171.78 L65.20,171.84 L65.30,171.85 L65.40,171.85 L65.50,171.85 L65.60,171.84 L65.70,171.84 L65.80,171.82 L65.90,171.80 L66.00,171.77 L66.10,171.73 L66.20,171.68 L66.30,171.60 L66.40,171.49 L66.50,171.32 L66.60,171.08 L66.70,170.72 L66.80,170.21 L66.90,169.49 L67.00,168.53 L67.10,167.27 L67.20,165.72 L67.30,163.87 L67.40,161.81 L67.50,159.63 L67.60,157.52 L67.70,155.69 L67.80,154.39 L67.90,153.86 L68.00,154.20 L68.10,155.33 L68.20,157.07 L68.30,159.15 L68.40,161.35 L68.50,163.47 L68.60,165.39 L68.70,167.04 L68.80,168.38 L68.90,169.43 L69.00,170.23 L69.10,170.80 L69.20,171.21 L69.30,171.50 L69.40,171.70 L69.50,171.84 L69.60,171.95 L69.70,172.02 L69.80,172.09 L69.90,172.14 L70.00,172.18 L70.10,172.22 L70.20,172.25 L70.30,172.28 L70.40,172.31 L70.50,172.33 L70.60,172.35 L70.70,172.37 L70.80,172.39 L70.90,172.41 L71.00,172.42 L71.50,172.49 L72.00,172.53 L72.50,172.56 L73.00,172.59 L73.50,172.61 L74.00,172.63 L74.50,172.64 L75.00,172.66 L75.50,172.67 L76.00,172.68 L76.50,172.69 L77.00,172.69 L77.50,172.70 L78.00,172.71 L78.50,172.71 L79.00,172.72 L79.50,172.72 L80.00,172.73 L80.50,172.73 L81.00,172.73 L81.50,172.74 L82.00,172.74 L82.50,172.74 L83.00,172.74 L83.50,172.75 L84.00,172.75 L84.50,172.75 L85.00,172.75 L85.50,172.75 L86.00,172.76 L86.50,172.76 L87.00,172.76 L87.50,172.76 L88.00,172.76 L88.50,172.76 L89.00,172.76 L89.50,172.77 L90.00,172.77 L90.50,172.77 L91.00,172.77 L91.50,172.77 L92.00,172.77 L92.50,172.77 L93.00,172.77 L93.50,172.77 L94.00,172.77 L94.50,172.77 L95.00,172.77 L95.50,172.78 L96.00,172.78 L96.50,172.78 L97.00,172.78 L97.50,172.78 L98.00,172.78 L98.50,172.78 L99.00,172.78 L99.50,172.78 L100.00,172.78 L100.50,172.78 L101.00,172.78 L101.50,172.78 L102.00,172.78 L102.50,172.78 L103.00,172.78 L103.50,172.78 L104.00,172.78 L104.50,172.78 L105.00,172.78 L105.50,172.78 L106.00,172.78 L106.50,172.78 L107.00,172.78 L107.50,172.78 L108.00,172.78 L108.50,172.78 L109.00,172.78 L109.50,172.78 L110.00,172.78 L110.50,172.78 L111.00,172.78 L111.50,172.78 L112.00,172.78 L112.50,172.78 L113.00,172.78 L113.50,172.78 L114.00,172.78 L114.50,172.77 L115.00,172.77 L115.50,172.77 L116.00,172.76 L116.50,172.76 L117.00,172.75 L117.50,172.75 L118.00,172.73 L118.50,172.72 L119.00,172.69 L119.10,172.68 L119.20,172.68 L119.30,172.67 L119.40,172.66 L119.50,172.65 L119.60,172.64 L119.70,172.62 L119.80,172.61 L119.90,172.59 L120.00,172.57 L120.10,172.54 L120.20,172.51 L120.30,172.46 L120.40,172.40 L120.50,172.32 L120.60,172.19 L120.70,172.02 L120.80,171.78 L120.90,171.45 L121.00,171.01 L121.10,170.46 L121.20,169.77 L121.30,168.97 L121.40,168.06 L121.50,167.11 L121.60,166.17 L121.70,165.32 L121.80,164.68 L121.90,164.33 L122.00,164.34 L122.10,164.71 L122.20,165.38 L122.30,166.23 L122.40,167.18 L122.50,168.13 L122.60,169.03 L122.70,169.82 L122.80,170.50 L122.90,171.05 L123.00,171.48 L123.10,171.80 L123.20,172.04 L123.30,172.20 L123.40,172.32 L123.50,172.41 L123.60,172.47 L123.70,172.51 L123.80,172.54 L123.90,172.57 L124.00,172.59 L124.10,172.61 L124.20,172.62 L124.30,172.64 L124.40,172.65 L124.50,172.66 L124.60,172.67 L124.70,172.68 L124.80,172.68 L124.90,172.69 L125.00,172.70 L125.50,172.72 L126.00,172.74 L126.50,172.75 L127.00,172.76 L127.50,172.76 L128.00,172.77 L128.50,172.77 L129.00,172.77 L129.50,172.78 L130.00,172.78 L130.50,172.78 L131.00,172.78 L131.50,172.78 L132.00,172.78 L132.50,172.78 L133.00,172.79 L133.50,172.79 L134.00,172.79 L134.50,172.79 L135.00,172.79 L135.50,172.79 L136.00,172.79 L136.50,172.79 L137.00,172.79 L137.50,172.79 L138.00,172.79 L138.50,172.79 L139.00,172.79 L139.50,172.79 L140.00,172.79 L140.50,172.79 L141.00,172.79 L141.50,172.79 L142.00,172.79 L142.50,172.79 L143.00,172.79 L143.50,172.79 L144.00,172.79 L144.50,172.79 L145.00,172.79 L145.50,172.79 L146.00,172.79 L146.50,172.79 L147.00,172.79 L147.50,172.79 L148.00,172.79 L148.50,172.79 L149.00,172.79 L149.50,172.79 L150.00,172.79 L150.50,172.79 L151.00,172.79 L151.50,172.79 L152.00,172.79 L152.50,172.79 L153.00,172.79 L153.50,172.79 L154.00,172.79 L154.50,172.79 L155.00,172.79 L155.50,172.79 L156.00,172.78 L156.50,172.78 L157.00,172.78 L157.50,172.78 L158.00,172.78 L158.50,172.78 L159.00,172.77 L159.50,172.77 L160.00,172.77 L160.50,172.76 L161.00,172.75 L161.50,172.74 L162.00,172.72 L162.50,172.70 L163.00,172.64 L163.50,172.47 L164.00,171.93 L164.50,170.70 L165.00,169.19 L165.50,168.96 L166.00,170.34 L166.50,171.71 L167.00,172.39 L167.50,172.62 L168.00,172.69 L168.50,172.72 L169.00,172.74 L169.50,172.75 L170.00,172.76 L170.50,172.76 L171.00,172.77 L171.50,172.77 L172.00,172.78 L172.50,172.78 L173.00,172.78 L173.50,172.78 L174.00,172.78 L174.50,172.78 L175.00,172.78 L175.50,172.78 L176.00,172.79 L176.50,172.79 L177.00,172.79 L177.50,172.79 L178.00,172.79 L178.50,172.79 L179.00,172.79 L179.50,172.79 L180.00,172.79 L180.50,172.79 L181.00,172.79 L181.50,172.79 L182.00,172.79 L182.50,172.79 L183.00,172.78 L183.50,172.78 L184.00,172.78 L184.50,172.78 L185.00,172.78 L185.50,172.78 L186.00,172.78 L186.50,172.78 L187.00,172.78 L187.50,172.77 L188.00,172.77 L188.50,172.77 L189.00,172.76 L189.50,172.76 L190.00,172.75 L190.50,172.74 L191.00,172.72 L191.50,172.71 L192.00,172.68 L192.50,172.63 L192.60,172.62 L192.70,172.61 L192.80,172.59 L192.90,172.58 L193.00,172.56 L193.10,172.54 L193.20,172.51 L193.30,172.48 L193.40,172.45 L193.50,172.40 L193.60,172.35 L193.70,172.26 L193.80,172.15 L193.90,171.99 L194.00,171.77 L194.10,171.45 L194.20,171.01 L194.30,170.43 L194.40,169.68 L194.50,168.75 L194.60,167.65 L194.70,166.40 L194.80,165.06 L194.90,163.72 L195.00,162.49 L195.10,161.50 L195.20,160.91 L195.30,160.82 L195.40,161.24 L195.50,162.10 L195.60,163.26 L195.70,164.58 L195.80,165.93 L195.90,167.22 L196.00,168.38 L196.10,169.37 L196.20,170.18 L196.30,170.82 L196.40,171.31 L196.50,171.66 L196.60,171.92 L196.70,172.10 L196.80,172.23 L196.90,172.32 L197.00,172.38 L197.10,172.43 L197.20,172.47 L197.30,172.50 L197.40,172.53 L197.50,172.55 L197.60,172.57 L197.70,172.59 L197.80,172.60 L197.90,172.62 L198.00,172.63 L198.10,172.64 L198.20,172.65 L198.30,172.66 L198.80,172.69 L199.30,172.71 L199.80,172.73 L200.30,172.74 L200.80,172.75 L201.30,172.76 L201.80,172.76 L202.30,172.76 L202.80,172.77 L203.30,172.77 L203.80,172.77 L204.30,172.77 L204.80,172.77 L205.30,172.77 L205.80,172.77 L206.30,172.77 L206.80,172.77 L207.30,172.77 L207.80,172.77 L208.30,172.77 L208.80,172.76 L209.30,172.76 L209.80,172.75 L210.30,172.73 L210.80,172.64 L211.30,172.35 L211.80,171.91 L212.30,171.82 L212.80,172.23 L213.30,172.57 L213.80,172.69 L214.30,172.72 L214.80,172.72 L215.30,172.71 L215.80,172.70 L216.30,172.68 L216.80,172.64 L217.30,172.54 L217.80,172.27 L218.30,171.56 L218.80,170.23 L219.30,168.69 L219.80,168.24 L220.30,169.41 L220.80,170.95 L221.30,171.97 L221.80,172.42 L222.30,172.56 L222.80,172.60 L223.30,172.55 L223.80,172.31 L224.30,171.73 L224.80,170.97 L225.30,170.81 L225.80,171.49 L226.30,172.20 L226.80,172.56 L227.30,172.68 L227.80,172.72 L228.30,172.73 L228.80,172.75 L229.30,172.75 L229.80,172.76 L230.30,172.76 L230.80,172.76 L231.30,172.77 L231.80,172.77 L232.30,172.77 L232.80,172.77 L233.30,172.77 L233.80,172.77 L234.30,172.77 L234.80,172.76 L235.30,172.76 L235.80,172.76 L236.30,172.75 L236.80,172.75 L237.30,172.74 L237.80,172.72 L238.30,172.70 L238.80,172.67 L239.30,172.59 L239.80,172.36 L240.30,171.76 L240.80,170.62 L241.30,169.27 L241.80,168.83 L242.30,169.82 L242.80,171.17 L243.30,172.08 L243.80,172.49 L244.30,172.63 L244.80,172.69 L245.30,172.71 L245.80,172.73 L246.30,172.74 L246.80,172.75 L247.30,172.76 L247.80,172.77 L248.30,172.77 L248.80,172.77 L249.30,172.77 L249.80,172.78 L250.30,172.78 L250.80,172.78 L251.30,172.78 L251.80,172.78 L252.30,172.78 L252.80,172.78 L253.30,172.78 L253.80,172.78 L254.30,172.78 L254.80,172.78 L255.30,172.78 L255.80,172.78 L256.30,172.78 L256.80,172.78 L257.30,172.78 L257.80,172.77 L258.30,172.77 L258.80,172.76 L259.30,172.75 L259.80,172.74 L260.30,172.70 L260.80,172.60 L261.30,172.34 L261.80,171.83 L262.30,171.22 L262.80,171.01 L263.30,171.44 L263.80,172.06 L264.30,172.47 L264.80,172.66 L265.30,172.72 L265.80,172.75 L266.30,172.76 L266.80,172.77 L267.30,172.77 L267.80,172.78 L268.30,172.78 L268.80,172.78 L269.30,172.79 L269.80,172.79 L270.30,172.79 L270.80,172.79 L271.30,172.79 L271.80,172.79 L272.30,172.79 L272.80,172.79 L273.30,172.79 L273.80,172.79 L274.30,172.79 L274.80,172.79 L275.30,172.79 L275.80,172.79 L276.30,172.79 L276.80,172.80 L277.30,172.80" fill="none" stroke="#000" stroke-width="1.8" stroke-linejoin="round" clip-path="url(#lowonly)"/>
<path d="M14.50,172.78 L15.00,172.78 L15.50,172.78 L16.00,172.78 L16.50,172.78 L17.00,172.78 L17.50,172.78 L18.00,172.78 L18.50,172.78 L19.00,172.78 L19.50,172.78 L20.00,172.78 L20.50,172.78 L21.00,172.78 L21.50,172.78 L22.00,172.78 L22.50,172.78 L23.00,172.78 L23.50,172.78 L24.00,172.78 L24.50,172.77 L25.00,172.77 L25.50,172.77 L26.00,172.77 L26.50,172.77 L27.00,172.77 L27.50,172.77 L28.00,172.77 L28.50,172.77 L29.00,172.77 L29.50,172.77 L30.00,172.76 L30.50,172.76 L31.00,172.76 L31.50,172.76 L32.00,172.76 L32.50,172.76 L33.00,172.75 L33.50,172.75 L34.00,172.75 L34.50,172.75 L35.00,172.75 L35.50,172.74 L36.00,172.74 L36.50,172.74 L37.00,172.73 L37.50,172.73 L38.00,172.72 L38.50,172.72 L39.00,172.71 L39.50,172.71 L40.00,172.70 L40.50,172.69 L41.00,172.68 L41.50,172.67 L42.00,172.66 L42.50,172.64 L43.00,172.61 L43.50,172.58 L43.60,172.57 L43.70,172.56 L43.80,172.55 L43.90,172.54 L44.00,172.52 L44.10,172.51 L44.20,172.49 L44.30,172.47 L44.40,172.45 L44.50,172.43 L44.60,172.40 L44.70,172.37 L44.80,172.32 L44.90,172.26 L45.00,172.18 L45.10,172.06 L45.20,171.90 L45.30,171.66 L45.40,171.32 L45.50,170.86 L45.60,170.25 L45.70,169.48 L45.80,168.55 L45.90,167.46 L46.00,166.28 L46.10,165.07 L46.20,163.94 L46.30,163.02 L46.40,162.46 L46.50,162.35 L46.60,162.72 L46.70,163.50 L46.80,164.55 L46.90,165.74 L47.00,166.94 L47.10,168.07 L47.20,169.07 L47.30,169.90 L47.40,170.57 L47.50,171.09 L47.60,171.47 L47.70,171.74 L47.80,171.93 L47.90,172.06 L48.00,172.15 L48.10,172.21 L48.20,172.26 L48.30,172.29 L48.40,172.31 L48.50,172.33 L48.60,172.35 L48.70,172.36 L48.80,172.37 L48.90,172.38 L49.00,172.39 L49.10,172.39 L49.20,172.40 L49.30,172.40 L49.40,172.40 L49.50,172.41 L50.00,172.40 L50.50,172.38 L51.00,172.35 L51.50,172.31 L52.00,172.25 L52.50,172.17 L53.00,172.08 L53.50,171.96 L54.00,171.80 L54.50,171.58 L55.00,171.28 L55.50,170.86 L56.00,170.23 L56.50,169.23 L56.60,168.97 L56.70,168.67 L56.80,168.33 L56.90,167.96 L57.00,167.53 L57.10,167.03 L57.20,166.46 L57.30,165.78 L57.40,164.95 L57.50,163.93 L57.60,162.65 L57.70,160.99 L57.80,158.84 L57.90,156.02 L58.00,152.34 L58.10,147.60 L58.20,141.59 L58.30,134.14 L58.40,125.15 L58.50,114.63 L58.60,102.76 L58.70,89.97 L58.80,76.99 L58.90,64.96 L59.00,55.42 L59.10,49.97 L59.20,49.75 L59.30,54.79 L59.40,64.06 L59.50,75.94 L59.60,88.89 L59.70,101.73 L59.80,113.69 L59.90,124.33 L60.00,133.45 L60.10,141.03 L60.20,147.15 L60.30,151.99 L60.40,155.74 L60.50,158.62 L60.60,160.82 L60.70,162.51 L60.80,163.82 L60.90,164.86 L61.00,165.70 L61.10,166.39 L61.20,166.97 L61.30,167.47 L61.40,167.90 L61.50,168.28 L61.60,168.62 L61.70,168.92 L61.80,169.18 L61.90,169.42 L62.00,169.64 L62.10,169.84 L62.20,170.02 L62.70,170.70 L63.20,171.14 L63.70,171.44 L64.20,171.65 L64.70,171.78 L65.20,171.84 L65.30,171.85 L65.40,171.85 L65.50,171.85 L65.60,171.84 L65.70,171.84 L65.80,171.82 L65.90,171.80 L66.00,171.77 L66.10,171.73 L66.20,171.68 L66.30,171.60 L66.40,171.49 L66.50,171.32 L66.60,171.08 L66.70,170.72 L66.80,170.21 L66.90,169.49 L67.00,168.53 L67.10,167.27 L67.20,165.72 L67.30,163.87 L67.40,161.81 L67.50,159.63 L67.60,157.52 L67.70,155.69 L67.80,154.39 L67.90,153.86 L68.00,154.20 L68.10,155.33 L68.20,157.07 L68.30,159.15 L68.40,161.35 L68.50,163.47 L68.60,165.39 L68.70,167.04 L68.80,168.38 L68.90,169.43 L69.00,170.23 L69.10,170.80 L69.20,171.21 L69.30,171.50 L69.40,171.70 L69.50,171.84 L69.60,171.95 L69.70,172.02 L69.80,172.09 L69.90,172.14 L70.00,172.18 L70.10,172.22 L70.20,172.25 L70.30,172.28 L70.40,172.31 L70.50,172.33 L70.60,172.35 L70.70,172.37 L70.80,172.39 L70.90,172.41 L71.00,172.42 L71.50,172.49 L72.00,172.53 L72.50,172.56 L73.00,172.59 L73.50,172.61 L74.00,172.63 L74.50,172.64 L75.00,172.66 L75.50,172.67 L76.00,172.68 L76.50,172.69 L77.00,172.69 L77.50,172.70 L78.00,172.71 L78.50,172.71 L79.00,172.72 L79.50,172.72 L80.00,172.73 L80.50,172.73 L81.00,172.73 L81.50,172.74 L82.00,172.74 L82.50,172.74 L83.00,172.74 L83.50,172.75 L84.00,172.75 L84.50,172.75 L85.00,172.75 L85.50,172.75 L86.00,172.76 L86.50,172.76 L87.00,172.76 L87.50,172.76 L88.00,172.76 L88.50,172.76 L89.00,172.76 L89.50,172.77 L90.00,172.77 L90.50,172.77 L91.00,172.77 L91.50,172.77 L92.00,172.77 L92.50,172.77 L93.00,172.77 L93.50,172.77 L94.00,172.77 L94.50,172.77 L95.00,172.77 L95.50,172.78 L96.00,172.78 L96.50,172.78 L97.00,172.78 L97.50,172.78 L98.00,172.78 L98.50,172.78 L99.00,172.78 L99.50,172.78 L100.00,172.78 L100.50,172.78 L101.00,172.78 L101.50,172.78 L102.00,172.78 L102.50,172.78 L103.00,172.78 L103.50,172.78 L104.00,172.78 L104.50,172.78 L105.00,172.78 L105.50,172.78 L106.00,172.78 L106.50,172.78 L107.00,172.78 L107.50,172.78 L108.00,172.78 L108.50,172.78 L109.00,172.78 L109.50,172.78 L110.00,172.78 L110.50,172.78 L111.00,172.78 L111.50,172.78 L112.00,172.78 L112.50,172.78 L113.00,172.78 L113.50,172.78 L114.00,172.78 L114.50,172.77 L115.00,172.77 L115.50,172.77 L116.00,172.76 L116.50,172.76 L117.00,172.75 L117.50,172.75 L118.00,172.73 L118.50,172.72 L119.00,172.69 L119.10,172.68 L119.20,172.68 L119.30,172.67 L119.40,172.66 L119.50,172.65 L119.60,172.64 L119.70,172.62 L119.80,172.61 L119.90,172.59 L120.00,172.57 L120.10,172.54 L120.20,172.51 L120.30,172.46 L120.40,172.40 L120.50,172.32 L120.60,172.19 L120.70,172.02 L120.80,171.78 L120.90,171.45 L121.00,171.01 L121.10,170.46 L121.20,169.77 L121.30,168.97 L121.40,168.06 L121.50,167.11 L121.60,166.17 L121.70,165.32 L121.80,164.68 L121.90,164.33 L122.00,164.34 L122.10,164.71 L122.20,165.38 L122.30,166.23 L122.40,167.18 L122.50,168.13 L122.60,169.03 L122.70,169.82 L122.80,170.50 L122.90,171.05 L123.00,171.48 L123.10,171.80 L123.20,172.04 L123.30,172.20 L123.40,172.32 L123.50,172.41 L123.60,172.47 L123.70,172.51 L123.80,172.54 L123.90,172.57 L124.00,172.59 L124.10,172.61 L124.20,172.62 L124.30,172.64 L124.40,172.65 L124.50,172.66 L124.60,172.67 L124.70,172.68 L124.80,172.68 L124.90,172.69 L125.00,172.70 L125.50,172.72 L126.00,172.74 L126.50,172.75 L127.00,172.76 L127.50,172.76 L128.00,172.77 L128.50,172.77 L129.00,172.77 L129.50,172.78 L130.00,172.78 L130.50,172.78 L131.00,172.78 L131.50,172.78 L132.00,172.78 L132.50,172.78 L133.00,172.79 L133.50,172.79 L134.00,172.79 L134.50,172.79 L135.00,172.79 L135.50,172.79 L136.00,172.79 L136.50,172.79 L137.00,172.79 L137.50,172.79 L138.00,172.79 L138.50,172.79 L139.00,172.79 L139.50,172.79 L140.00,172.79 L140.50,172.79 L141.00,172.79 L141.50,172.79 L142.00,172.79 L142.50,172.79 L143.00,172.79 L143.50,172.79 L144.00,172.79 L144.50,172.79 L145.00,172.79 L145.50,172.79 L146.00,172.79 L146.50,172.79 L147.00,172.79 L147.50,172.79 L148.00,172.79 L148.50,172.79 L149.00,172.79 L149.50,172.79 L150.00,172.79 L150.50,172.79 L151.00,172.79 L151.50,172.79 L152.00,172.79 L152.50,172.79 L153.00,172.79 L153.50,172.79 L154.00,172.79 L154.50,172.79 L155.00,172.79 L155.50,172.79 L156.00,172.78 L156.50,172.78 L157.00,172.78 L157.50,172.78 L158.00,172.78 L158.50,172.78 L159.00,172.77 L159.50,172.77 L160.00,172.77 L160.50,172.76 L161.00,172.75 L161.50,172.74 L162.00,172.72 L162.50,172.70 L163.00,172.64 L163.50,172.47 L164.00,171.93 L164.50,170.70 L165.00,169.19 L165.50,168.96 L166.00,170.34 L166.50,171.71 L167.00,172.39 L167.50,172.62 L168.00,172.69 L168.50,172.72 L169.00,172.74 L169.50,172.75 L170.00,172.76 L170.50,172.76 L171.00,172.77 L171.50,172.77 L172.00,172.78 L172.50,172.78 L173.00,172.78 L173.50,172.78 L174.00,172.78 L174.50,172.78 L175.00,172.78 L175.50,172.78 L176.00,172.79 L176.50,172.79 L177.00,172.79 L177.50,172.79 L178.00,172.79 L178.50,172.79 L179.00,172.79 L179.50,172.79 L180.00,172.79 L180.50,172.79 L181.00,172.79 L181.50,172.79 L182.00,172.79 L182.50,172.79 L183.00,172.78 L183.50,172.78 L184.00,172.78 L184.50,172.78 L185.00,172.78 L185.50,172.78 L186.00,172.78 L186.50,172.78 L187.00,172.78 L187.50,172.77 L188.00,172.77 L188.50,172.77 L189.00,172.76 L189.50,172.76 L190.00,172.75 L190.50,172.74 L191.00,172.72 L191.50,172.71 L192.00,172.68 L192.50,172.63 L192.60,172.62 L192.70,172.61 L192.80,172.59 L192.90,172.58 L193.00,172.56 L193.10,172.54 L193.20,172.51 L193.30,172.48 L193.40,172.45 L193.50,172.40 L193.60,172.35 L193.70,172.26 L193.80,172.15 L193.90,171.99 L194.00,171.77 L194.10,171.45 L194.20,171.01 L194.30,170.43 L194.40,169.68 L194.50,168.75 L194.60,167.65 L194.70,166.40 L194.80,165.06 L194.90,163.72 L195.00,162.49 L195.10,161.50 L195.20,160.91 L195.30,160.82 L195.40,161.24 L195.50,162.10 L195.60,163.26 L195.70,164.58 L195.80,165.93 L195.90,167.22 L196.00,168.38 L196.10,169.37 L196.20,170.18 L196.30,170.82 L196.40,171.31 L196.50,171.66 L196.60,171.92 L196.70,172.10 L196.80,172.23 L196.90,172.32 L197.00,172.38 L197.10,172.43 L197.20,172.47 L197.30,172.50 L197.40,172.53 L197.50,172.55 L197.60,172.57 L197.70,172.59 L197.80,172.60 L197.90,172.62 L198.00,172.63 L198.10,172.64 L198.20,172.65 L198.30,172.66 L198.80,172.69 L199.30,172.71 L199.80,172.73 L200.30,172.74 L200.80,172.75 L201.30,172.76 L201.80,172.76 L202.30,172.76 L202.80,172.77 L203.30,172.77 L203.80,172.77 L204.30,172.77 L204.80,172.77 L205.30,172.77 L205.80,172.77 L206.30,172.77 L206.80,172.77 L207.30,172.77 L207.80,172.77 L208.30,172.77 L208.80,172.76 L209.30,172.76 L209.80,172.75 L210.30,172.73 L210.80,172.64 L211.30,172.35 L211.80,171.91 L212.30,171.82 L212.80,172.23 L213.30,172.57 L213.80,172.69 L214.30,172.72 L214.80,172.72 L215.30,172.71 L215.80,172.70 L216.30,172.68 L216.80,172.64 L217.30,172.54 L217.80,172.27 L218.30,171.56 L218.80,170.23 L219.30,168.69 L219.80,168.24 L220.30,169.41 L220.80,170.95 L221.30,171.97 L221.80,172.42 L222.30,172.56 L222.80,172.60 L223.30,172.55 L223.80,172.31 L224.30,171.73 L224.80,170.97 L225.30,170.81 L225.80,171.49 L226.30,172.20 L226.80,172.56 L227.30,172.68 L227.80,172.72 L228.30,172.73 L228.80,172.75 L229.30,172.75 L229.80,172.76 L230.30,172.76 L230.80,172.76 L231.30,172.77 L231.80,172.77 L232.30,172.77 L232.80,172.77 L233.30,172.77 L233.80,172.77 L234.30,172.77 L234.80,172.76 L235.30,172.76 L235.80,172.76 L236.30,172.75 L236.80,172.75 L237.30,172.74 L237.80,172.72 L238.30,172.70 L238.80,172.67 L239.30,172.59 L239.80,172.36 L240.30,171.76 L240.80,170.62 L241.30,169.27 L241.80,168.83 L242.30,169.82 L242.80,171.17 L243.30,172.08 L243.80,172.49 L244.30,172.63 L244.80,172.69 L245.30,172.71 L245.80,172.73 L246.30,172.74 L246.80,172.75 L247.30,172.76 L247.80,172.77 L248.30,172.77 L248.80,172.77 L249.30,172.77 L249.80,172.78 L250.30,172.78 L250.80,172.78 L251.30,172.78 L251.80,172.78 L252.30,172.78 L252.80,172.78 L253.30,172.78 L253.80,172.78 L254.30,172.78 L254.80,172.78 L255.30,172.78 L255.80,172.78 L256.30,172.78 L256.80,172.78 L257.30,172.78 L257.80,172.77 L258.30,172.77 L258.80,172.76 L259.30,172.75 L259.80,172.74 L260.30,172.70 L260.80,172.60 L261.30,172.34 L261.80,171.83 L262.30,171.22 L262.80,171.01 L263.30,171.44 L263.80,172.06 L264.30,172.47 L264.80,172.66 L265.30,172.72 L265.80,172.75 L266.30,172.76 L266.80,172.77 L267.30,172.77 L267.80,172.78 L268.30,172.78 L268.80,172.78 L269.30,172.79 L269.80,172.79 L270.30,172.79 L270.80,172.79 L271.30,172.79 L271.80,172.79 L272.30,172.79 L272.80,172.79 L273.30,172.79 L273.80,172.79 L274.30,172.79 L274.80,172.79 L275.30,172.79 L275.80,172.79 L276.30,172.79 L276.80,172.80 L277.30,172.80" fill="none" stroke="#111" stroke-width="1.5" stroke-linejoin="round" clip-path="url(#midpk)"/>
<path d="M14.50,172.78 L15.00,172.78 L15.50,172.78 L16.00,172.78 L16.50,172.78 L17.00,172.78 L17.50,172.78 L18.00,172.78 L18.50,172.78 L19.00,172.78 L19.50,172.78 L20.00,172.78 L20.50,172.78 L21.00,172.78 L21.50,172.78 L22.00,172.78 L22.50,172.78 L23.00,172.78 L23.50,172.78 L24.00,172.78 L24.50,172.77 L25.00,172.77 L25.50,172.77 L26.00,172.77 L26.50,172.77 L27.00,172.77 L27.50,172.77 L28.00,172.77 L28.50,172.77 L29.00,172.77 L29.50,172.77 L30.00,172.76 L30.50,172.76 L31.00,172.76 L31.50,172.76 L32.00,172.76 L32.50,172.76 L33.00,172.75 L33.50,172.75 L34.00,172.75 L34.50,172.75 L35.00,172.75 L35.50,172.74 L36.00,172.74 L36.50,172.74 L37.00,172.73 L37.50,172.73 L38.00,172.72 L38.50,172.72 L39.00,172.71 L39.50,172.71 L40.00,172.70 L40.50,172.69 L41.00,172.68 L41.50,172.67 L42.00,172.66 L42.50,172.64 L43.00,172.61 L43.50,172.58 L44.00,172.52 L44.50,172.43 L45.00,172.18 L45.50,171.60 L46.00,171.60 L46.50,171.60 L47.00,171.60 L47.50,171.60 L48.00,172.15 L48.50,172.33 L49.00,172.39 L49.50,172.41 L50.00,172.40 L50.50,172.38 L51.00,172.35 L51.50,172.31 L52.00,172.25 L52.50,172.17 L53.00,172.08 L53.50,171.96 L54.00,171.80 L54.50,171.60 L55.00,171.60 L55.50,171.60 L56.00,171.60 L56.50,171.60 L57.00,171.60 L57.50,171.60 L58.00,171.60 L58.50,171.60 L59.00,171.60 L59.50,171.60 L60.00,171.60 L60.50,171.60 L61.00,171.60 L61.50,171.60 L62.00,171.60 L62.50,171.60 L63.00,171.60 L63.50,171.60 L64.00,171.60 L64.50,171.73 L65.00,171.83 L65.50,171.85 L66.00,171.77 L66.50,171.60 L67.00,171.60 L67.50,171.60 L68.00,171.60 L68.50,171.60 L69.00,171.60 L69.50,171.84 L70.00,172.18 L70.50,172.33 L71.00,172.42 L71.50,172.49 L72.00,172.53 L72.50,172.56 L73.00,172.59 L73.50,172.61 L74.00,172.63 L74.50,172.64 L75.00,172.66 L75.50,172.67 L76.00,172.68 L76.50,172.69 L77.00,172.69 L77.50,172.70 L78.00,172.71 L78.50,172.71 L79.00,172.72 L79.50,172.72 L80.00,172.73 L80.50,172.73 L81.00,172.73 L81.50,172.74 L82.00,172.74 L82.50,172.74 L83.00,172.74 L83.50,172.75 L84.00,172.75 L84.50,172.75 L85.00,172.75 L85.50,172.75 L86.00,172.76 L86.50,172.76 L87.00,172.76 L87.50,172.76 L88.00,172.76 L88.50,172.76 L89.00,172.76 L89.50,172.77 L90.00,172.77 L90.50,172.77 L91.00,172.77 L91.50,172.77 L92.00,172.77 L92.50,172.77 L93.00,172.77 L93.50,172.77 L94.00,172.77 L94.50,172.77 L95.00,172.77 L95.50,172.78 L96.00,172.78 L96.50,172.78 L97.00,172.78 L97.50,172.78 L98.00,172.78 L98.50,172.78 L99.00,172.78 L99.50,172.78 L100.00,172.78 L100.50,172.78 L101.00,172.78 L101.50,172.78 L102.00,172.78 L102.50,172.78 L103.00,172.78 L103.50,172.78 L104.00,172.78 L104.50,172.78 L105.00,172.78 L105.50,172.78 L106.00,172.78 L106.50,172.78 L107.00,172.78 L107.50,172.78 L108.00,172.78 L108.50,172.78 L109.00,172.78 L109.50,172.78 L110.00,172.78 L110.50,172.78 L111.00,172.78 L111.50,172.78 L112.00,172.78 L112.50,172.78 L113.00,172.78 L113.50,172.78 L114.00,172.78 L114.50,172.77 L115.00,172.77 L115.50,172.77 L116.00,172.76 L116.50,172.76 L117.00,172.75 L117.50,172.75 L118.00,172.73 L118.50,172.72 L119.00,172.69 L119.50,172.65 L120.00,172.57 L120.50,172.32 L121.00,171.60 L121.50,171.60 L122.00,171.60 L122.50,171.60 L123.00,171.60 L123.50,172.41 L124.00,172.59 L124.50,172.66 L125.00,172.70 L125.50,172.72 L126.00,172.74 L126.50,172.75 L127.00,172.76 L127.50,172.76 L128.00,172.77 L128.50,172.77 L129.00,172.77 L129.50,172.78 L130.00,172.78 L130.50,172.78 L131.00,172.78 L131.50,172.78 L132.00,172.78 L132.50,172.78 L133.00,172.79 L133.50,172.79 L134.00,172.79 L134.50,172.79 L135.00,172.79 L135.50,172.79 L136.00,172.79 L136.50,172.79 L137.00,172.79 L137.50,172.79 L138.00,172.79 L138.50,172.79 L139.00,172.79 L139.50,172.79 L140.00,172.79 L140.50,172.79 L141.00,172.79 L141.50,172.79 L142.00,172.79 L142.50,172.79 L143.00,172.79 L143.50,172.79 L144.00,172.79 L144.50,172.79 L145.00,172.79 L145.50,172.79 L146.00,172.79 L146.50,172.79 L147.00,172.79 L147.50,172.79 L148.00,172.79 L148.50,172.79 L149.00,172.79 L149.50,172.79 L150.00,172.79 L150.50,172.79 L151.00,172.79 L151.50,172.79 L152.00,172.79 L152.50,172.79 L153.00,172.79 L153.50,172.79 L154.00,172.79 L154.50,172.79 L155.00,172.79 L155.50,172.79 L156.00,172.78 L156.50,172.78 L157.00,172.78 L157.50,172.78 L158.00,172.78 L158.50,172.78 L159.00,172.77 L159.50,172.77 L160.00,172.77 L160.50,172.76 L161.00,172.75 L161.50,172.74 L162.00,172.72 L162.50,172.70 L163.00,172.64 L163.50,172.47 L164.00,171.93 L164.50,171.60 L165.00,171.60 L165.50,171.60 L166.00,171.60 L166.50,171.71 L167.00,172.39 L167.50,172.62 L168.00,172.69 L168.50,172.72 L169.00,172.74 L169.50,172.75 L170.00,172.76 L170.50,172.76 L171.00,172.77 L171.50,172.77 L172.00,172.78 L172.50,172.78 L173.00,172.78 L173.50,172.78 L174.00,172.78 L174.50,172.78 L175.00,172.78 L175.50,172.78 L176.00,172.79 L176.50,172.79 L177.00,172.79 L177.50,172.79 L178.00,172.79 L178.50,172.79 L179.00,172.79 L179.50,172.79 L180.00,172.79 L180.50,172.79 L181.00,172.79 L181.50,172.79 L182.00,172.79 L182.50,172.79 L183.00,172.78 L183.50,172.78 L184.00,172.78 L184.50,172.78 L185.00,172.78 L185.50,172.78 L186.00,172.78 L186.50,172.78 L187.00,172.78 L187.50,172.77 L188.00,172.77 L188.50,172.77 L189.00,172.76 L189.50,172.76 L190.00,172.75 L190.50,172.74 L191.00,172.72 L191.50,172.71 L192.00,172.68 L192.50,172.63 L193.00,172.56 L193.50,172.40 L194.00,171.77 L194.50,171.60 L195.00,171.60 L195.50,171.60 L196.00,171.60 L196.50,171.66 L197.00,172.38 L197.50,172.55 L198.00,172.63 L198.50,172.67 L199.00,172.70 L199.50,172.72 L200.00,172.74 L200.50,172.75 L201.00,172.75 L201.50,172.76 L202.00,172.76 L202.50,172.77 L203.00,172.77 L203.50,172.77 L204.00,172.77 L204.50,172.77 L205.00,172.77 L205.50,172.77 L206.00,172.77 L206.50,172.77 L207.00,172.77 L207.50,172.77 L208.00,172.77 L208.50,172.77 L209.00,172.76 L209.50,172.76 L210.00,172.74 L210.50,172.70 L211.00,172.55 L211.50,172.18 L212.00,171.79 L212.50,171.96 L213.00,172.40 L213.50,172.64 L214.00,172.71 L214.50,172.72 L215.00,172.72 L215.50,172.71 L216.00,172.69 L216.50,172.66 L217.00,172.61 L217.50,172.47 L218.00,172.06 L218.50,171.60 L219.00,171.60 L219.50,171.60 L220.00,171.60 L220.50,171.60 L221.00,171.60 L221.50,172.20 L222.00,172.50 L222.50,172.59 L223.00,172.59 L223.50,172.49 L224.00,172.12 L224.50,171.60 L225.00,171.60 L225.50,171.60 L226.00,171.81 L226.50,172.38 L227.00,172.62 L227.50,172.70 L228.00,172.73 L228.50,172.74 L229.00,172.75 L229.50,172.76 L230.00,172.76 L230.50,172.76 L231.00,172.77 L231.50,172.77 L232.00,172.77 L232.50,172.77 L233.00,172.77 L233.50,172.77 L234.00,172.77 L234.50,172.77 L235.00,172.76 L235.50,172.76 L236.00,172.76 L236.50,172.75 L237.00,172.74 L237.50,172.73 L238.00,172.72 L238.50,172.69 L239.00,172.65 L239.50,172.53 L240.00,172.18 L240.50,171.60 L241.00,171.60 L241.50,171.60 L242.00,171.60 L242.50,171.60 L243.00,171.61 L243.50,172.29 L244.00,172.57 L244.50,172.66 L245.00,172.70 L245.50,172.72 L246.00,172.74 L246.50,172.75 L247.00,172.76 L247.50,172.76 L248.00,172.77 L248.50,172.77 L249.00,172.77 L249.50,172.78 L250.00,172.78 L250.50,172.78 L251.00,172.78 L251.50,172.78 L252.00,172.78 L252.50,172.78 L253.00,172.78 L253.50,172.78 L254.00,172.78 L254.50,172.78 L255.00,172.78 L255.50,172.78 L256.00,172.78 L256.50,172.78 L257.00,172.78 L257.50,172.78 L258.00,172.77 L258.50,172.77 L259.00,172.76 L259.50,172.75 L260.00,172.73 L260.50,172.68 L261.00,172.52 L261.50,172.16 L262.00,171.60 L262.50,171.60 L263.00,171.60 L263.50,171.70 L264.00,172.25 L264.50,172.57 L265.00,172.69 L265.50,172.74 L266.00,172.75 L266.50,172.76 L267.00,172.77 L267.50,172.78 L268.00,172.78 L268.50,172.78 L269.00,172.78 L269.50,172.79 L270.00,172.79 L270.50,172.79 L271.00,172.79 L271.50,172.79 L272.00,172.79 L272.50,172.79 L273.00,172.79 L273.50,172.79 L274.00,172.79 L274.50,172.79 L275.00,172.79 L275.50,172.79 L276.00,172.79 L276.50,172.79 L277.00,172.80 L277.50,172.80" fill="none" stroke="#000" stroke-width="2.4" stroke-linejoin="round"/>
<g stroke="#4a4a4a" stroke-width="1.1"><line x1="46.47" y1="177.6" x2="46.47" y2="182.2"/><line x1="59.15" y1="177.6" x2="59.15" y2="182.2"/><line x1="67.91" y1="177.6" x2="67.91" y2="182.2"/><line x1="121.95" y1="177.6" x2="121.95" y2="182.2"/><line x1="165.31" y1="177.6" x2="165.31" y2="182.2"/><line x1="195.27" y1="177.6" x2="195.27" y2="182.2"/><line x1="212.11" y1="177.6" x2="212.11" y2="182.2"/><line x1="219.68" y1="177.6" x2="219.68" y2="182.2"/><line x1="225.13" y1="177.6" x2="225.13" y2="182.2"/><line x1="241.69" y1="177.6" x2="241.69" y2="182.2"/><line x1="262.70" y1="177.6" x2="262.70" y2="182.2"/></g>
<path d="M14.50,194.72 L15.30,194.77 L16.10,194.61 L16.90,194.86 L17.70,194.95 L18.50,194.91 L19.30,194.84 L20.10,194.52 L20.90,194.44 L21.70,194.66 L22.50,194.59 L23.30,194.52 L24.10,194.92 L24.90,194.53 L25.70,194.89 L26.50,194.96 L27.30,194.47 L28.10,194.95 L28.90,194.64 L29.70,194.53 L30.50,194.51 L31.30,194.42 L32.10,194.70 L32.90,194.63 L33.70,194.91 L34.50,194.90 L35.30,194.43 L36.10,194.64 L36.90,194.63 L37.70,194.51 L38.50,194.55 L39.30,194.56 L40.10,194.82 L40.90,194.60 L41.70,194.47 L42.50,194.54 L43.30,194.76 L44.10,195.10 L44.20,194.94 L44.30,195.25 L44.40,194.98 L44.50,195.27 L44.60,195.24 L44.70,194.98 L44.80,195.31 L44.90,195.07 L45.00,195.10 L45.10,195.06 L45.20,194.96 L45.30,194.68 L45.40,194.20 L45.50,194.32 L45.60,193.96 L45.70,193.25 L45.80,192.76 L45.90,192.01 L46.00,191.88 L46.10,191.35 L46.20,190.84 L46.30,191.17 L46.40,191.46 L46.50,191.47 L46.60,192.39 L46.70,192.70 L46.80,193.15 L46.90,194.04 L47.00,194.28 L47.10,194.85 L47.20,194.98 L47.30,194.80 L47.40,195.08 L47.50,195.25 L47.60,194.97 L47.70,194.94 L47.80,195.07 L47.90,194.77 L48.00,194.76 L48.10,194.79 L48.20,194.92 L48.30,194.53 L48.40,194.46 L48.50,194.86 L48.60,194.73 L48.70,194.58 L48.80,194.94 L48.90,194.93 L49.00,194.72 L49.10,194.99 L49.20,194.90 L49.30,194.85 L49.40,194.57 L49.50,194.41 L50.30,194.81 L51.10,194.84 L51.90,194.61 L52.70,194.69 L53.50,194.74 L54.30,194.55 L55.10,194.82 L55.90,194.74 L56.70,194.80 L56.80,194.71 L56.90,195.07 L57.00,195.04 L57.10,195.42 L57.20,195.24 L57.30,195.54 L57.40,195.58 L57.50,195.86 L57.60,196.09 L57.70,195.90 L57.80,195.91 L57.90,196.16 L58.00,195.90 L58.10,195.87 L58.20,195.29 L58.30,194.59 L58.40,193.80 L58.50,192.49 L58.60,190.46 L58.70,188.01 L58.80,185.88 L58.90,184.40 L59.00,184.58 L59.10,186.24 L59.20,189.67 L59.30,193.02 L59.40,197.30 L59.50,199.94 L59.60,201.50 L59.70,201.61 L59.80,201.18 L59.90,199.31 L60.00,198.05 L60.10,196.76 L60.20,195.67 L60.30,195.11 L60.40,195.26 L60.50,194.98 L60.60,194.88 L60.70,194.96 L60.80,194.46 L60.90,194.82 L61.00,194.85 L61.10,194.54 L61.20,194.67 L61.30,194.98 L61.40,194.60 L61.50,194.86 L61.60,194.50 L61.70,194.80 L61.80,194.56 L61.90,194.71 L62.00,194.62 L62.10,194.92 L62.20,194.85 L63.00,194.70 L63.80,194.82 L64.60,194.73 L65.40,195.19 L65.50,194.90 L65.60,195.11 L65.70,195.17 L65.80,195.07 L65.90,194.89 L66.00,194.97 L66.10,195.26 L66.20,194.99 L66.30,195.30 L66.40,195.11 L66.50,195.31 L66.60,195.15 L66.70,194.93 L66.80,194.50 L66.90,194.02 L67.00,193.96 L67.10,193.62 L67.20,193.21 L67.30,192.24 L67.40,191.70 L67.50,191.78 L67.60,191.39 L67.70,191.20 L67.80,191.55 L67.90,191.63 L68.00,192.49 L68.10,193.29 L68.20,194.00 L68.30,194.42 L68.40,194.97 L68.50,195.66 L68.60,196.03 L68.70,195.64 L68.80,195.50 L68.90,195.40 L69.00,195.64 L69.10,195.22 L69.20,195.09 L69.30,195.28 L69.40,194.95 L69.50,194.67 L69.60,194.89 L69.70,194.44 L69.80,194.59 L69.90,194.83 L70.00,194.51 L70.10,194.42 L70.20,194.71 L70.30,194.60 L70.40,194.98 L70.50,194.46 L70.60,194.88 L70.70,194.63 L70.80,194.88 L70.90,194.67 L71.00,194.80 L71.80,194.60 L72.60,194.53 L73.40,194.67 L74.20,194.88 L75.00,194.61 L75.80,194.54 L76.60,194.65 L77.40,194.46 L78.20,194.59 L79.00,194.74 L79.80,194.73 L80.60,194.76 L81.40,194.57 L82.20,194.41 L83.00,194.42 L83.80,194.60 L84.60,194.52 L85.40,194.74 L86.20,194.56 L87.00,194.86 L87.80,194.76 L88.60,194.80 L89.40,194.84 L90.20,194.71 L91.00,194.66 L91.80,194.59 L92.60,194.44 L93.40,194.88 L94.20,194.70 L95.00,194.46 L95.80,194.96 L96.60,194.75 L97.40,194.77 L98.20,194.66 L99.00,194.48 L99.80,195.00 L100.60,194.50 L101.40,194.62 L102.20,195.00 L103.00,194.47 L103.80,194.70 L104.60,194.69 L105.40,194.55 L106.20,194.95 L107.00,194.65 L107.80,194.41 L108.60,194.68 L109.40,194.40 L110.20,194.83 L111.00,194.92 L111.80,194.94 L112.60,194.43 L113.40,194.81 L114.20,194.58 L115.00,194.68 L115.80,194.58 L116.60,194.58 L117.40,194.48 L118.20,194.81 L119.00,194.55 L119.10,195.09 L119.20,194.54 L119.30,195.10 L119.40,194.65 L119.50,194.59 L119.60,194.99 L119.70,194.86 L119.80,195.00 L119.90,194.84 L120.00,194.91 L120.10,194.57 L120.20,194.92 L120.30,194.80 L120.40,195.04 L120.50,194.43 L120.60,194.41 L120.70,194.71 L120.80,194.77 L120.90,194.37 L121.00,194.42 L121.10,194.20 L121.20,193.96 L121.30,193.88 L121.40,193.84 L121.50,193.41 L121.60,193.53 L121.70,193.79 L121.80,193.55 L121.90,193.77 L122.00,193.78 L122.10,194.00 L122.20,194.36 L122.30,194.60 L122.40,194.90 L122.50,194.75 L122.60,194.70 L122.70,194.86 L122.80,194.74 L122.90,194.86 L123.00,195.05 L123.10,195.04 L123.20,194.78 L123.30,194.70 L123.40,194.61 L123.50,194.62 L123.60,194.78 L123.70,194.61 L123.80,194.97 L123.90,194.76 L124.00,194.62 L124.10,194.67 L124.20,194.43 L124.30,194.84 L124.40,194.85 L124.50,194.62 L124.60,194.84 L124.70,194.56 L124.80,194.53 L124.90,194.54 L125.00,194.52 L125.80,194.76 L126.60,194.79 L127.40,194.84 L128.20,194.46 L129.00,194.86 L129.80,194.69 L130.60,194.63 L131.40,194.70 L132.20,194.66 L133.00,194.52 L133.80,194.64 L134.60,194.79 L135.40,194.83 L136.20,194.95 L137.00,194.52 L137.80,194.93 L138.60,194.88 L139.40,194.83 L140.20,194.99 L141.00,194.48 L141.80,194.87 L142.60,194.94 L143.40,194.47 L144.20,194.76 L145.00,194.97 L145.80,194.58 L146.60,194.91 L147.40,194.94 L148.20,194.66 L149.00,194.49 L149.80,194.53 L150.60,194.90 L151.40,194.65 L152.20,194.59 L153.00,194.67 L153.80,194.96 L154.60,194.55 L155.40,194.41 L156.20,194.97 L157.00,194.59 L157.80,194.63 L158.60,194.99 L159.40,194.57 L160.20,194.45 L161.00,194.94 L161.80,194.59 L162.60,194.63 L163.40,195.07 L164.20,194.35 L165.00,194.03 L165.80,194.47 L166.60,194.71 L167.40,194.54 L168.20,194.73 L169.00,194.74 L169.80,194.64 L170.60,194.70 L171.40,194.58 L172.20,194.90 L173.00,194.96 L173.80,194.85 L174.60,194.89 L175.40,194.44 L176.20,194.55 L177.00,194.52 L177.80,194.49 L178.60,194.98 L179.40,194.94 L180.20,194.95 L181.00,194.73 L181.80,194.47 L182.60,194.66 L183.40,194.43 L184.20,194.94 L185.00,194.56 L185.80,194.57 L186.60,194.97 L187.40,194.52 L188.20,194.95 L189.00,194.59 L189.80,194.80 L190.60,194.47 L191.40,194.99 L192.20,194.82 L193.00,194.90 L193.10,195.09 L193.20,195.05 L193.30,194.83 L193.40,194.74 L193.50,194.98 L193.60,194.61 L193.70,195.07 L193.80,194.67 L193.90,194.47 L194.00,194.43 L194.10,194.13 L194.20,194.04 L194.30,193.93 L194.40,193.58 L194.50,193.25 L194.60,192.94 L194.70,192.79 L194.80,192.76 L194.90,192.41 L195.00,192.55 L195.10,192.42 L195.20,192.34 L195.30,192.58 L195.40,193.28 L195.50,193.38 L195.60,193.66 L195.70,194.07 L195.80,194.56 L195.90,194.51 L196.00,194.69 L196.10,194.82 L196.20,194.68 L196.30,195.03 L196.40,194.98 L196.50,194.96 L196.60,194.90 L196.70,194.87 L196.80,194.97 L196.90,194.62 L197.00,195.06 L197.10,194.52 L197.20,194.95 L197.30,194.53 L197.40,194.89 L197.50,194.56 L197.60,194.45 L197.70,194.73 L197.80,194.90 L197.90,194.91 L198.00,194.93 L198.10,194.99 L198.20,194.43 L198.30,194.63 L199.10,194.46 L199.90,194.85 L200.70,194.67 L201.50,194.85 L202.30,194.88 L203.10,195.00 L203.90,194.81 L204.70,194.93 L205.50,194.73 L206.30,194.45 L207.10,194.93 L207.90,194.45 L208.70,194.45 L209.50,194.90 L210.30,194.57 L211.10,194.80 L211.90,194.42 L212.70,194.53 L213.50,194.83 L214.30,194.42 L215.10,194.71 L215.90,194.98 L216.70,194.59 L217.50,194.92 L218.30,194.84 L219.10,194.18 L219.90,194.51 L220.70,195.00 L221.50,194.43 L222.30,194.52 L223.10,194.72 L223.90,194.98 L224.70,194.53 L225.50,194.75 L226.30,194.48 L227.10,194.91 L227.90,194.67 L228.70,194.71 L229.50,194.80 L230.30,194.48 L231.10,194.84 L231.90,194.88 L232.70,194.92 L233.50,194.57 L234.30,194.54 L235.10,194.50 L235.90,194.94 L236.70,194.66 L237.50,194.64 L238.30,194.74 L239.10,194.88 L239.90,194.65 L240.70,194.43 L241.50,194.33 L242.30,194.88 L243.10,194.64 L243.90,194.45 L244.70,194.96 L245.50,194.84 L246.30,194.76 L247.10,194.64 L247.90,194.98 L248.70,194.66 L249.50,194.53 L250.30,194.46 L251.10,194.61 L251.90,194.76 L252.70,194.62 L253.50,194.97 L254.30,194.79 L255.10,194.67 L255.90,194.80 L256.70,194.76 L257.50,194.77 L258.30,194.70 L259.10,194.71 L259.90,194.69 L260.70,194.90 L261.50,194.52 L262.30,194.87 L263.10,194.58 L263.90,194.91 L264.70,194.44 L265.50,194.69 L266.30,194.67 L267.10,194.83 L267.90,194.52 L268.70,194.56 L269.50,194.48 L270.30,194.74 L271.10,194.75 L271.90,194.40 L272.70,194.51 L273.50,194.52 L274.30,194.97 L275.10,194.67 L275.90,194.74 L276.70,194.57" fill="none" stroke="#0000ff" stroke-width="1.05" stroke-linejoin="round"/>
<g class="serif" font-weight="bold" font-size="11.8"><text transform="translate(46.5,147.5) rotate(-90) scale(1,1.07)" text-anchor="middle" y="3.8">(100)</text><text transform="translate(60.2,34.4) rotate(-90) scale(1,1.07)" text-anchor="middle" y="3.8">(002)</text><text transform="translate(70.0,140.2) rotate(-90) scale(1,1.07)" text-anchor="middle" y="3.8">(101)</text><text transform="translate(122.6,152.1) rotate(-90) scale(1,1.07)" text-anchor="middle" y="3.8">(102)</text><text transform="translate(165.2,156.8) rotate(-90) scale(1,1.07)" text-anchor="middle" y="3.8">(110)</text><text transform="translate(197.2,147.0) rotate(-90) scale(1,1.07)" text-anchor="middle" y="3.8">(103)</text><text transform="translate(219.3,153.6) rotate(-90) scale(1,1.07)" text-anchor="middle" y="3.8">(112)</text><text transform="translate(241.7,156.9) rotate(-90) scale(1,1.07)" text-anchor="middle" y="3.8">(004)</text></g>
<!-- legend a -->
<g>
<line x1="154.5" y1="11.2" x2="185" y2="11.2" stroke="#ff0000" stroke-width="1.1"/>
<circle cx="170" cy="11.2" r="2.2" fill="#fff" stroke="#ff0000" stroke-width="1"/>
<line x1="154.5" y1="27.5" x2="185" y2="27.5" stroke="#333" stroke-width="1.5"/>
<circle cx="170" cy="27.5" r="0.9" fill="#000"/>
<line x1="154.5" y1="44.2" x2="185" y2="44.2" stroke="#3434b0" stroke-width="1.35"/>
<line x1="170" y1="57.5" x2="170" y2="63.5" stroke="#444" stroke-width="0.8"/>
<g class="serif" font-weight="bold" font-size="13.5">
<text transform="translate(191.4,15.0) scale(1,1.07)">Yobs</text>
<text transform="translate(191.4,31.4) scale(1,1.07)">Ycal</text>
<text transform="translate(191.4,48.2) scale(1,1.07)">Yobs-Ycal</text>
<text transform="translate(191.4,65.0) scale(1,1.07)" textLength="83" lengthAdjust="spacingAndGlyphs">Bragg position</text>
</g>
</g>
<rect x="14.2" y="2.1" width="263.6" height="214.3" fill="none" stroke="#000" stroke-width="1.8"/>
<g stroke="#000" stroke-width="1.4"><line x1="16.25" y1="216.4" x2="16.25" y2="219.8"/><line x1="20.60" y1="216.4" x2="20.60" y2="219.8"/><line x1="24.95" y1="216.4" x2="24.95" y2="219.8"/><line x1="29.30" y1="216.4" x2="29.30" y2="219.8"/><line x1="33.65" y1="216.4" x2="33.65" y2="219.8"/><line x1="38.00" y1="216.4" x2="38.00" y2="221.4"/><line x1="42.35" y1="216.4" x2="42.35" y2="219.8"/><line x1="46.70" y1="216.4" x2="46.70" y2="219.8"/><line x1="51.05" y1="216.4" x2="51.05" y2="219.8"/><line x1="55.40" y1="216.4" x2="55.40" y2="219.8"/><line x1="59.75" y1="216.4" x2="59.75" y2="219.8"/><line x1="64.11" y1="216.4" x2="64.11" y2="219.8"/><line x1="68.46" y1="216.4" x2="68.46" y2="219.8"/><line x1="72.81" y1="216.4" x2="72.81" y2="219.8"/><line x1="77.16" y1="216.4" x2="77.16" y2="219.8"/><line x1="81.51" y1="216.4" x2="81.51" y2="219.8"/><line x1="85.86" y1="216.4" x2="85.86" y2="221.4"/><line x1="90.21" y1="216.4" x2="90.21" y2="219.8"/><line x1="94.56" y1="216.4" x2="94.56" y2="219.8"/><line x1="98.91" y1="216.4" x2="98.91" y2="219.8"/><line x1="103.26" y1="216.4" x2="103.26" y2="219.8"/><line x1="107.61" y1="216.4" x2="107.61" y2="219.8"/><line x1="111.97" y1="216.4" x2="111.97" y2="219.8"/><line x1="116.32" y1="216.4" x2="116.32" y2="219.8"/><line x1="120.67" y1="216.4" x2="120.67" y2="219.8"/><line x1="125.02" y1="216.4" x2="125.02" y2="219.8"/><line x1="129.37" y1="216.4" x2="129.37" y2="219.8"/><line x1="133.72" y1="216.4" x2="133.72" y2="221.4"/><line x1="138.07" y1="216.4" x2="138.07" y2="219.8"/><line x1="142.42" y1="216.4" x2="142.42" y2="219.8"/><line x1="146.77" y1="216.4" x2="146.77" y2="219.8"/><line x1="151.12" y1="216.4" x2="151.12" y2="219.8"/><line x1="155.47" y1="216.4" x2="155.47" y2="219.8"/><line x1="159.83" y1="216.4" x2="159.83" y2="219.8"/><line x1="164.18" y1="216.4" x2="164.18" y2="219.8"/><line x1="168.53" y1="216.4" x2="168.53" y2="219.8"/><line x1="172.88" y1="216.4" x2="172.88" y2="219.8"/><line x1="177.23" y1="216.4" x2="177.23" y2="219.8"/><line x1="181.58" y1="216.4" x2="181.58" y2="221.4"/><line x1="185.93" y1="216.4" x2="185.93" y2="219.8"/><line x1="190.28" y1="216.4" x2="190.28" y2="219.8"/><line x1="194.63" y1="216.4" x2="194.63" y2="219.8"/><line x1="198.98" y1="216.4" x2="198.98" y2="219.8"/><line x1="203.33" y1="216.4" x2="203.33" y2="219.8"/><line x1="207.69" y1="216.4" x2="207.69" y2="219.8"/><line x1="212.04" y1="216.4" x2="212.04" y2="219.8"/><line x1="216.39" y1="216.4" x2="216.39" y2="219.8"/><line x1="220.74" y1="216.4" x2="220.74" y2="219.8"/><line x1="225.09" y1="216.4" x2="225.09" y2="219.8"/><line x1="229.44" y1="216.4" x2="229.44" y2="221.4"/><line x1="233.79" y1="216.4" x2="233.79" y2="219.8"/><line x1="238.14" y1="216.4" x2="238.14" y2="219.8"/><line x1="242.49" y1="216.4" x2="242.49" y2="219.8"/><line x1="246.84" y1="216.4" x2="246.84" y2="219.8"/><line x1="251.19" y1="216.4" x2="251.19" y2="219.8"/><line x1="255.55" y1="216.4" x2="255.55" y2="219.8"/><line x1="259.90" y1="216.4" x2="259.90" y2="219.8"/><line x1="264.25" y1="216.4" x2="264.25" y2="219.8"/><line x1="268.60" y1="216.4" x2="268.60" y2="219.8"/><line x1="272.95" y1="216.4" x2="272.95" y2="219.8"/><line x1="277.30" y1="216.4" x2="277.30" y2="221.4"/></g>
<g class="serif" font-weight="bold" font-size="13.5"><text transform="translate(38.50,233.7) scale(1,1.07)" text-anchor="middle">30</text><text transform="translate(86.36,233.7) scale(1,1.07)" text-anchor="middle">40</text><text transform="translate(134.22,233.7) scale(1,1.07)" text-anchor="middle">50</text><text transform="translate(182.08,233.7) scale(1,1.07)" text-anchor="middle">60</text><text transform="translate(229.94,233.7) scale(1,1.07)" text-anchor="middle">70</text><text transform="translate(277.80,233.7) scale(1,1.07)" text-anchor="middle">80</text></g>
<text class="serif" x="156.3" y="246.7" text-anchor="middle" font-weight="bold" font-size="14" textLength="69.3" lengthAdjust="spacingAndGlyphs">2θ (degree)</text>

<!-- Panel B -->
<line x1="327.4" y1="12.7" x2="562.3" y2="12.7" stroke="#222" stroke-width="1.3"/>
<line x1="325.4" y1="204.6" x2="562.3" y2="204.6" stroke="#000" stroke-width="1.4"/>
<line x1="327.4" y1="12.7" x2="327.4" y2="204.6" stroke="#000" stroke-width="1.3"/>
<line x1="562.3" y1="12.7" x2="562.3" y2="204.6" stroke="#5555ee" stroke-width="0.9"/>
<g stroke="#000" stroke-width="1"><line x1="323.4" y1="12.70" x2="327.4" y2="12.70"/><line x1="325.4" y1="15.65" x2="327.4" y2="15.65"/><line x1="325.4" y1="18.60" x2="327.4" y2="18.60"/><line x1="325.4" y1="21.55" x2="327.4" y2="21.55"/><line x1="325.4" y1="24.50" x2="327.4" y2="24.50"/><line x1="325.4" y1="27.45" x2="327.4" y2="27.45"/><line x1="325.4" y1="30.40" x2="327.4" y2="30.40"/><line x1="325.4" y1="33.35" x2="327.4" y2="33.35"/><line x1="325.4" y1="36.30" x2="327.4" y2="36.30"/><line x1="325.4" y1="39.25" x2="327.4" y2="39.25"/><line x1="323.4" y1="42.20" x2="327.4" y2="42.20"/><line x1="325.4" y1="45.15" x2="327.4" y2="45.15"/><line x1="325.4" y1="48.10" x2="327.4" y2="48.10"/><line x1="325.4" y1="51.05" x2="327.4" y2="51.05"/><line x1="325.4" y1="54.00" x2="327.4" y2="54.00"/><line x1="325.4" y1="56.95" x2="327.4" y2="56.95"/><line x1="325.4" y1="59.90" x2="327.4" y2="59.90"/><line x1="325.4" y1="62.85" x2="327.4" y2="62.85"/><line x1="325.4" y1="65.80" x2="327.4" y2="65.80"/><line x1="325.4" y1="68.75" x2="327.4" y2="68.75"/><line x1="323.4" y1="71.70" x2="327.4" y2="71.70"/><line x1="325.4" y1="74.65" x2="327.4" y2="74.65"/><line x1="325.4" y1="77.60" x2="327.4" y2="77.60"/><line x1="325.4" y1="80.55" x2="327.4" y2="80.55"/><line x1="325.4" y1="83.50" x2="327.4" y2="83.50"/><line x1="325.4" y1="86.45" x2="327.4" y2="86.45"/><line x1="325.4" y1="89.40" x2="327.4" y2="89.40"/><line x1="325.4" y1="92.35" x2="327.4" y2="92.35"/><line x1="325.4" y1="95.30" x2="327.4" y2="95.30"/><line x1="325.4" y1="98.25" x2="327.4" y2="98.25"/><line x1="323.4" y1="101.20" x2="327.4" y2="101.20"/><line x1="325.4" y1="104.15" x2="327.4" y2="104.15"/><line x1="325.4" y1="107.10" x2="327.4" y2="107.10"/><line x1="325.4" y1="110.05" x2="327.4" y2="110.05"/><line x1="325.4" y1="113.00" x2="327.4" y2="113.00"/><line x1="325.4" y1="115.95" x2="327.4" y2="115.95"/><line x1="325.4" y1="118.90" x2="327.4" y2="118.90"/><line x1="325.4" y1="121.85" x2="327.4" y2="121.85"/><line x1="325.4" y1="124.80" x2="327.4" y2="124.80"/><line x1="325.4" y1="127.75" x2="327.4" y2="127.75"/><line x1="323.4" y1="130.70" x2="327.4" y2="130.70"/><line x1="325.4" y1="133.65" x2="327.4" y2="133.65"/><line x1="325.4" y1="136.60" x2="327.4" y2="136.60"/><line x1="325.4" y1="139.55" x2="327.4" y2="139.55"/><line x1="325.4" y1="142.50" x2="327.4" y2="142.50"/><line x1="325.4" y1="145.45" x2="327.4" y2="145.45"/><line x1="325.4" y1="148.40" x2="327.4" y2="148.40"/><line x1="325.4" y1="151.35" x2="327.4" y2="151.35"/><line x1="325.4" y1="154.30" x2="327.4" y2="154.30"/><line x1="325.4" y1="157.25" x2="327.4" y2="157.25"/><line x1="323.4" y1="160.20" x2="327.4" y2="160.20"/><line x1="325.4" y1="163.15" x2="327.4" y2="163.15"/><line x1="325.4" y1="166.10" x2="327.4" y2="166.10"/><line x1="325.4" y1="169.05" x2="327.4" y2="169.05"/><line x1="325.4" y1="172.00" x2="327.4" y2="172.00"/><line x1="325.4" y1="174.95" x2="327.4" y2="174.95"/><line x1="325.4" y1="177.90" x2="327.4" y2="177.90"/><line x1="325.4" y1="180.85" x2="327.4" y2="180.85"/><line x1="325.4" y1="183.80" x2="327.4" y2="183.80"/><line x1="325.4" y1="186.75" x2="327.4" y2="186.75"/><line x1="323.4" y1="189.70" x2="327.4" y2="189.70"/><line x1="325.4" y1="192.65" x2="327.4" y2="192.65"/><line x1="325.4" y1="195.60" x2="327.4" y2="195.60"/><line x1="325.4" y1="198.55" x2="327.4" y2="198.55"/><line x1="325.4" y1="201.50" x2="327.4" y2="201.50"/><line x1="325.4" y1="204.45" x2="327.4" y2="204.45"/></g>
<g stroke="#0000ee" stroke-width="1"><line x1="562.3" y1="12.70" x2="566.3" y2="12.70"/><line x1="562.3" y1="15.90" x2="564.3" y2="15.90"/><line x1="562.3" y1="19.10" x2="564.3" y2="19.10"/><line x1="562.3" y1="22.29" x2="564.3" y2="22.29"/><line x1="562.3" y1="25.49" x2="564.3" y2="25.49"/><line x1="562.3" y1="28.69" x2="564.3" y2="28.69"/><line x1="562.3" y1="31.89" x2="564.3" y2="31.89"/><line x1="562.3" y1="35.09" x2="564.3" y2="35.09"/><line x1="562.3" y1="38.28" x2="564.3" y2="38.28"/><line x1="562.3" y1="41.48" x2="564.3" y2="41.48"/><line x1="562.3" y1="44.68" x2="566.3" y2="44.68"/><line x1="562.3" y1="47.88" x2="564.3" y2="47.88"/><line x1="562.3" y1="51.08" x2="564.3" y2="51.08"/><line x1="562.3" y1="54.27" x2="564.3" y2="54.27"/><line x1="562.3" y1="57.47" x2="564.3" y2="57.47"/><line x1="562.3" y1="60.67" x2="564.3" y2="60.67"/><line x1="562.3" y1="63.87" x2="564.3" y2="63.87"/><line x1="562.3" y1="67.07" x2="564.3" y2="67.07"/><line x1="562.3" y1="70.26" x2="564.3" y2="70.26"/><line x1="562.3" y1="73.46" x2="564.3" y2="73.46"/><line x1="562.3" y1="76.66" x2="566.3" y2="76.66"/><line x1="562.3" y1="79.86" x2="564.3" y2="79.86"/><line x1="562.3" y1="83.06" x2="564.3" y2="83.06"/><line x1="562.3" y1="86.25" x2="564.3" y2="86.25"/><line x1="562.3" y1="89.45" x2="564.3" y2="89.45"/><line x1="562.3" y1="92.65" x2="564.3" y2="92.65"/><line x1="562.3" y1="95.85" x2="564.3" y2="95.85"/><line x1="562.3" y1="99.05" x2="564.3" y2="99.05"/><line x1="562.3" y1="102.24" x2="564.3" y2="102.24"/><line x1="562.3" y1="105.44" x2="564.3" y2="105.44"/><line x1="562.3" y1="108.64" x2="566.3" y2="108.64"/><line x1="562.3" y1="111.84" x2="564.3" y2="111.84"/><line x1="562.3" y1="115.04" x2="564.3" y2="115.04"/><line x1="562.3" y1="118.23" x2="564.3" y2="118.23"/><line x1="562.3" y1="121.43" x2="564.3" y2="121.43"/><line x1="562.3" y1="124.63" x2="564.3" y2="124.63"/><line x1="562.3" y1="127.83" x2="564.3" y2="127.83"/><line x1="562.3" y1="131.03" x2="564.3" y2="131.03"/><line x1="562.3" y1="134.22" x2="564.3" y2="134.22"/><line x1="562.3" y1="137.42" x2="564.3" y2="137.42"/><line x1="562.3" y1="140.62" x2="566.3" y2="140.62"/><line x1="562.3" y1="143.82" x2="564.3" y2="143.82"/><line x1="562.3" y1="147.02" x2="564.3" y2="147.02"/><line x1="562.3" y1="150.21" x2="564.3" y2="150.21"/><line x1="562.3" y1="153.41" x2="564.3" y2="153.41"/><line x1="562.3" y1="156.61" x2="564.3" y2="156.61"/><line x1="562.3" y1="159.81" x2="564.3" y2="159.81"/><line x1="562.3" y1="163.01" x2="564.3" y2="163.01"/><line x1="562.3" y1="166.20" x2="564.3" y2="166.20"/><line x1="562.3" y1="169.40" x2="564.3" y2="169.40"/><line x1="562.3" y1="172.60" x2="566.3" y2="172.60"/><line x1="562.3" y1="175.80" x2="564.3" y2="175.80"/><line x1="562.3" y1="179.00" x2="564.3" y2="179.00"/><line x1="562.3" y1="182.19" x2="564.3" y2="182.19"/><line x1="562.3" y1="185.39" x2="564.3" y2="185.39"/><line x1="562.3" y1="188.59" x2="564.3" y2="188.59"/><line x1="562.3" y1="191.79" x2="564.3" y2="191.79"/><line x1="562.3" y1="194.99" x2="564.3" y2="194.99"/><line x1="562.3" y1="198.18" x2="564.3" y2="198.18"/><line x1="562.3" y1="201.38" x2="564.3" y2="201.38"/><line x1="562.3" y1="204.58" x2="566.3" y2="204.58"/></g>
<g stroke="#000" stroke-width="1"><line x1="350.90" y1="204.6" x2="350.90" y2="208.1"/><line x1="374.38" y1="204.6" x2="374.38" y2="206.9"/><line x1="397.85" y1="204.6" x2="397.85" y2="208.1"/><line x1="421.32" y1="204.6" x2="421.32" y2="206.9"/><line x1="444.80" y1="204.6" x2="444.80" y2="208.1"/><line x1="468.27" y1="204.6" x2="468.27" y2="206.9"/><line x1="491.75" y1="204.6" x2="491.75" y2="208.1"/><line x1="515.22" y1="204.6" x2="515.22" y2="206.9"/><line x1="538.70" y1="204.6" x2="538.70" y2="208.1"/></g>
<g class="serif" font-weight="bold" font-size="10.5"><text x="321.6" y="16.30" text-anchor="end">3.28</text><text x="321.6" y="45.80" text-anchor="end">3.27</text><text x="321.6" y="75.30" text-anchor="end">3.26</text><text x="321.6" y="104.80" text-anchor="end">3.25</text><text x="321.6" y="134.30" text-anchor="end">3.24</text><text x="321.6" y="163.80" text-anchor="end">3.23</text><text x="321.6" y="193.30" text-anchor="end">3.22</text></g>
<g class="serif" font-weight="bold" font-size="10.5" fill="#0000ee"><text x="568.5" y="16.30">5.25</text><text x="568.5" y="48.28">5.24</text><text x="568.5" y="80.26">5.23</text><text x="568.5" y="112.24">5.22</text><text x="568.5" y="144.22">5.21</text><text x="568.5" y="176.20">5.20</text><text x="568.5" y="208.18">5.19</text></g>
<g class="serif" font-weight="bold" font-size="10.5"><text x="350.90" y="218.2" text-anchor="middle">50</text><text x="397.85" y="218.2" text-anchor="middle">100</text><text x="444.80" y="218.2" text-anchor="middle">150</text><text x="491.75" y="218.2" text-anchor="middle">200</text><text x="538.70" y="218.2" text-anchor="middle">250</text></g>
<g transform="translate(444.5,233.4) scale(1,1.05)"><text class="serif" x="0" y="0" text-anchor="middle" font-weight="bold" font-size="12.5" textLength="152" lengthAdjust="spacingAndGlyphs">ZnO Concentration (in mM)</text></g>
<text class="serif" transform="translate(295,116.3) rotate(-90)" text-anchor="middle" font-weight="bold" font-size="11" textLength="106.5" lengthAdjust="spacingAndGlyphs">lattice paramerter a (Å)</text>
<text class="serif" transform="translate(600.3,117.2) rotate(-90)" text-anchor="middle" font-weight="bold" font-size="10.5" textLength="97" lengthAdjust="spacingAndGlyphs">lattice parameter c (Å)</text>
<text x="534.8" y="28.6" class="serif" font-size="17.2" letter-spacing="-0.8">(<tspan font-size="18.4">b</tspan>)</text>
<!-- legend b -->
<path d="M329.6,23.4H342.2M350.2,23.4H362.7" stroke="#444" stroke-width="1"/>
<rect x="343.50" y="20.90" width="5.4" height="5.4" fill="#fff" stroke="#000" stroke-width="0.7" stroke-opacity="0.8"/><rect x="346.20" y="20.90" width="2.7" height="5.4" fill="#000"/>
<path d="M329.6,45.4H342.2M350.2,45.4H362.7" stroke="#3535e0" stroke-width="1"/>
<rect x="343.50" y="42.90" width="5.4" height="5.2" fill="#fff" stroke="#0000ee" stroke-width="0.7" stroke-opacity="0.8"/><rect x="346.20" y="42.90" width="2.7" height="5.2" fill="#0000ee"/>
<g transform="translate(366,28.9) scale(1,1.06)" font-size="15.4"><text class="serif" x="0" y="0">"a" value (<tspan class="sans">Å</tspan>)</text></g>
<g transform="translate(366,50.8) scale(1,1.06)" font-size="15.4"><text class="serif" x="0" y="0">"c" value (<tspan class="sans">Å</tspan>)</text></g>
<line x1="350.90" y1="95.2" x2="397.85" y2="92.8" stroke="#333" stroke-width="0.9" stroke-dasharray="5.5,2.2"/><line x1="397.85" y1="92.8" x2="444.80" y2="100.6" stroke="#333" stroke-width="0.9" stroke-dasharray="1.1,1.1"/><line x1="444.80" y1="100.6" x2="491.75" y2="93.3" stroke="#333" stroke-width="0.9" stroke-dasharray="1.1,1.1"/><line x1="491.75" y1="93.3" x2="538.70" y2="92.0" stroke="#333" stroke-width="0.9" stroke-dasharray="8.5,4"/><path d="M350.90,89.20V101.20M348.60,89.20H353.20M348.60,101.20H353.20" stroke="#000" stroke-width="1.5" fill="none"/><rect x="348.70" y="92.70" width="4.4" height="5.0" fill="#fff" stroke="#000" stroke-width="0.7" stroke-opacity="0.8"/><rect x="350.90" y="92.70" width="2.2" height="5.0" fill="#000"/><path d="M397.85,86.80V98.80M395.55,86.80H400.15M395.55,98.80H400.15" stroke="#000" stroke-width="1.5" fill="none"/><rect x="395.65" y="90.30" width="4.4" height="5.0" fill="#fff" stroke="#000" stroke-width="0.7" stroke-opacity="0.8"/><rect x="397.85" y="90.30" width="2.2" height="5.0" fill="#000"/><path d="M444.80,94.60V106.60M442.50,94.60H447.10M442.50,106.60H447.10" stroke="#000" stroke-width="1.5" fill="none"/><rect x="442.60" y="98.10" width="4.4" height="5.0" fill="#fff" stroke="#000" stroke-width="0.7" stroke-opacity="0.8"/><rect x="444.80" y="98.10" width="2.2" height="5.0" fill="#000"/><path d="M491.75,87.30V99.30M489.45,87.30H494.05M489.45,99.30H494.05" stroke="#000" stroke-width="1.5" fill="none"/><rect x="489.55" y="90.80" width="4.4" height="5.0" fill="#fff" stroke="#000" stroke-width="0.7" stroke-opacity="0.8"/><rect x="491.75" y="90.80" width="2.2" height="5.0" fill="#000"/><path d="M538.70,86.00V98.00M536.40,86.00H541.00M536.40,98.00H541.00" stroke="#000" stroke-width="1.5" fill="none"/><rect x="536.50" y="89.50" width="4.4" height="5.0" fill="#fff" stroke="#000" stroke-width="0.7" stroke-opacity="0.8"/><rect x="538.70" y="89.50" width="2.2" height="5.0" fill="#000"/>
<line x1="350.90" y1="136.3" x2="397.85" y2="137.0" stroke="#3333dd" stroke-width="0.8"/><line x1="397.85" y1="137.0" x2="444.80" y2="146.9" stroke="#3333dd" stroke-width="0.8"/><line x1="444.80" y1="146.9" x2="491.75" y2="134.5" stroke="#3333dd" stroke-width="0.8"/><line x1="491.75" y1="134.5" x2="538.70" y2="129.1" stroke="#3333dd" stroke-width="0.8" stroke-dasharray="3,1"/><path d="M350.90,130.30V142.30M348.60,130.30H353.20M348.60,142.30H353.20" stroke="#0000ee" stroke-width="1.5" fill="none"/><rect x="348.70" y="133.80" width="4.4" height="5.0" fill="#fff" stroke="#0000ee" stroke-width="0.7" stroke-opacity="0.8"/><rect x="350.90" y="133.80" width="2.2" height="5.0" fill="#0000ee"/><path d="M397.85,131.00V143.00M395.55,131.00H400.15M395.55,143.00H400.15" stroke="#0000ee" stroke-width="1.5" fill="none"/><rect x="395.65" y="134.50" width="4.4" height="5.0" fill="#fff" stroke="#0000ee" stroke-width="0.7" stroke-opacity="0.8"/><rect x="397.85" y="134.50" width="2.2" height="5.0" fill="#0000ee"/><path d="M444.80,140.90V152.90M442.50,140.90H447.10M442.50,152.90H447.10" stroke="#0000ee" stroke-width="1.5" fill="none"/><rect x="442.60" y="144.40" width="4.4" height="5.0" fill="#fff" stroke="#0000ee" stroke-width="0.7" stroke-opacity="0.8"/><rect x="444.80" y="144.40" width="2.2" height="5.0" fill="#0000ee"/><path d="M491.75,128.50V140.50M489.45,128.50H494.05M489.45,140.50H494.05" stroke="#0000ee" stroke-width="1.5" fill="none"/><rect x="489.55" y="132.00" width="4.4" height="5.0" fill="#fff" stroke="#0000ee" stroke-width="0.7" stroke-opacity="0.8"/><rect x="491.75" y="132.00" width="2.2" height="5.0" fill="#0000ee"/><path d="M538.70,123.10V135.10M536.40,123.10H541.00M536.40,135.10H541.00" stroke="#0000ee" stroke-width="1.5" fill="none"/><rect x="536.50" y="126.60" width="4.4" height="5.0" fill="#fff" stroke="#0000ee" stroke-width="0.7" stroke-opacity="0.8"/><rect x="538.70" y="126.60" width="2.2" height="5.0" fill="#0000ee"/>
<line x1="337" y1="96" x2="348.6" y2="96" stroke="#000" stroke-width="2"/>
<path d="M327.4,96 L338.2,92.7 L338.2,99.3 Z" fill="#000"/>
<line x1="542" y1="128.4" x2="553" y2="128.4" stroke="#0000ee" stroke-width="2"/>
<path d="M562,128.4 L551.5,125 L551.5,131.8 Z" fill="#0000ee"/>
</svg>
</body></html>
